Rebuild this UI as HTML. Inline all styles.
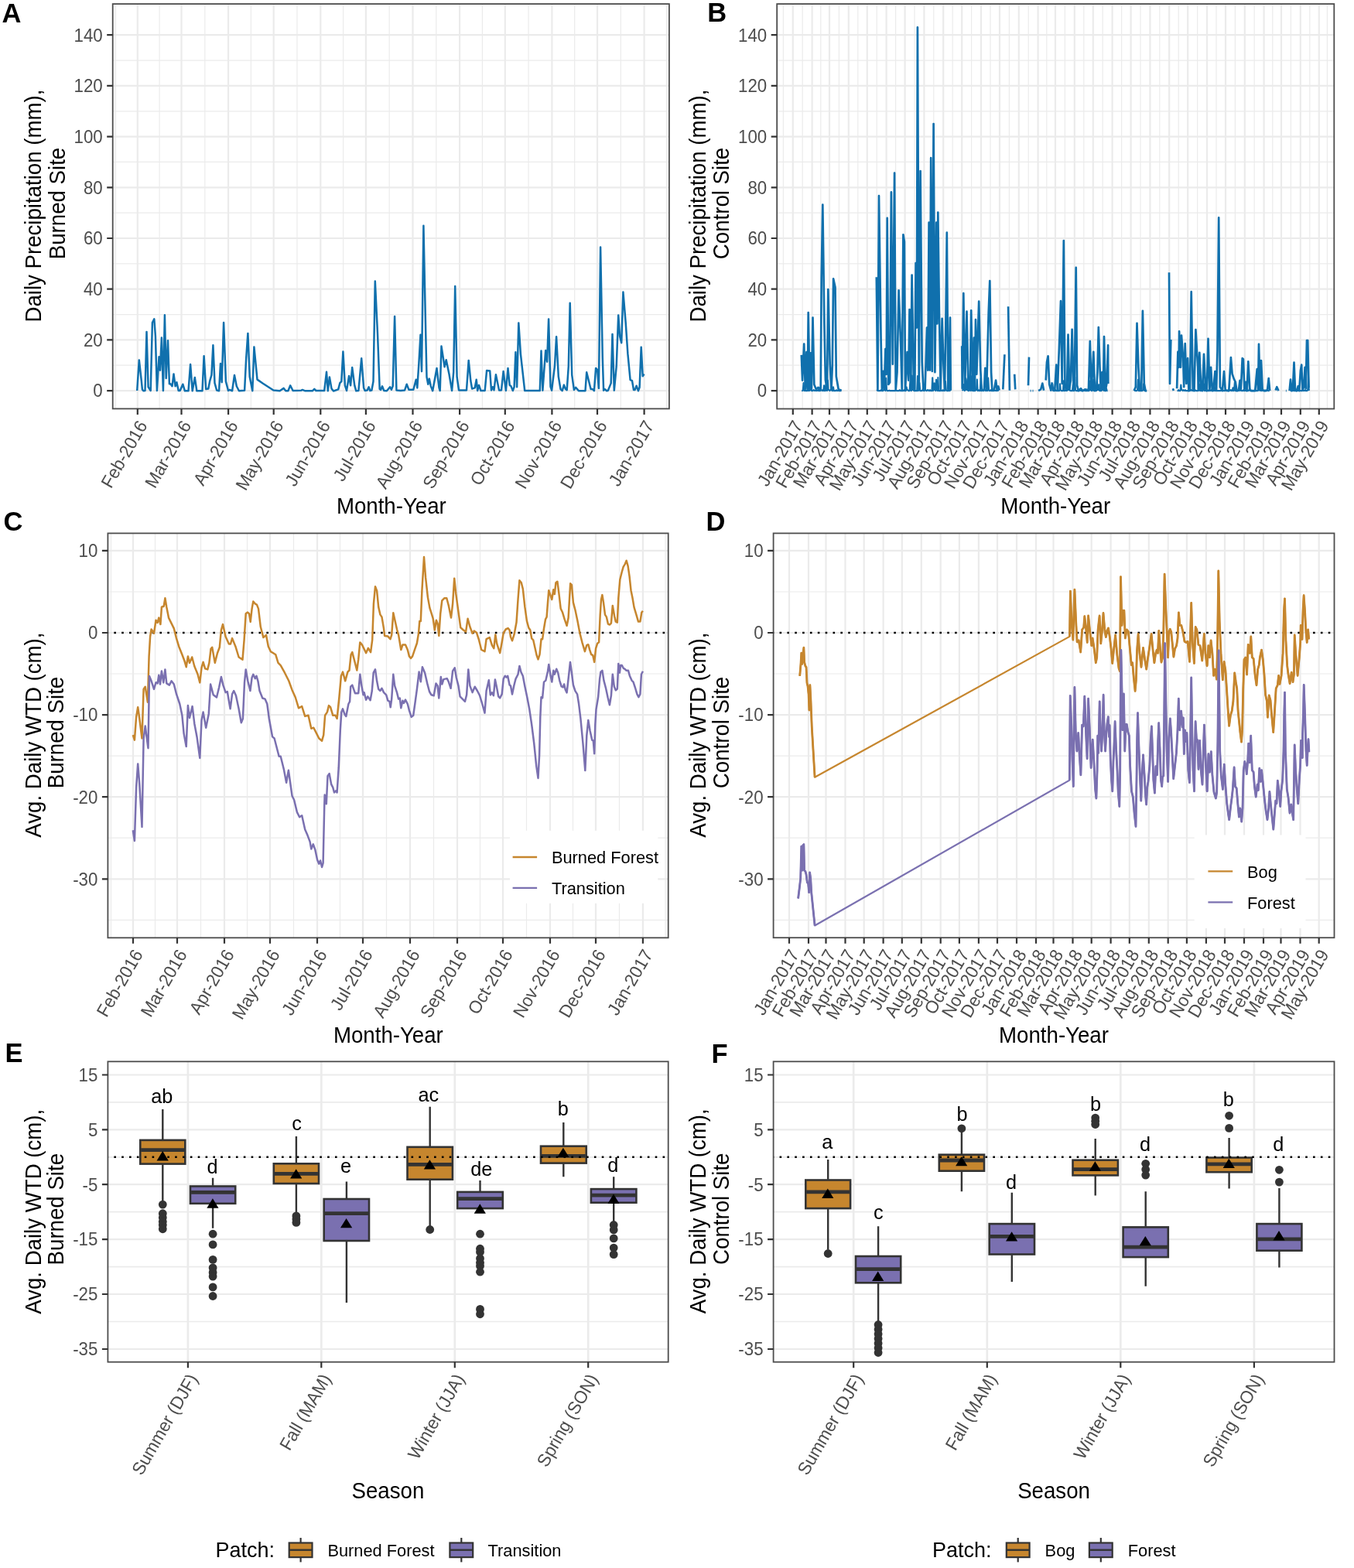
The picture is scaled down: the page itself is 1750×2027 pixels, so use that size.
<!DOCTYPE html>
<html lang="en">
<head>
<meta charset="utf-8">
<title>Daily precipitation and water table depth figure</title>
<style>
html,body{margin:0;padding:0;background:#fff}
body{width:1750px;height:2027px;overflow:hidden}
svg{display:block;font-family:'Liberation Sans', sans-serif}
</style>
</head>
<body>
<svg width="1750" height="2027" viewBox="0 0 1750 2027">
<rect width="1750" height="2027" fill="#ffffff"/>
<rect x="145.7" y="5.1" width="719.2" height="523.3" fill="#fff"/>
<path d="M145.7 472.2H864.9M145.7 406.6H864.9M145.7 340.9H864.9M145.7 275.1H864.9M145.7 209.4H864.9M145.7 143.8H864.9M145.7 78.1H864.9" stroke="#ebebeb" stroke-width="1.2" fill="none"/>
<path d="M206.1 5.1V528.4M264.8 5.1V528.4M324.4 5.1V528.4M384 5.1V528.4M443.6 5.1V528.4M503.2 5.1V528.4M563.8 5.1V528.4M623.4 5.1V528.4M683.1 5.1V528.4M742.7 5.1V528.4M802.3 5.1V528.4M149.5 5.1V528.4M861.5 5.1V528.4" stroke="#ebebeb" stroke-width="1.2" fill="none"/>
<path d="M145.7 505.1H864.9M145.7 439.4H864.9M145.7 373.7H864.9M145.7 308H864.9M145.7 242.3H864.9M145.7 176.6H864.9M145.7 110.9H864.9M145.7 45.2H864.9" stroke="#ebebeb" stroke-width="2.2" fill="none"/>
<path d="M177.8 5.1V528.4M234.5 5.1V528.4M295.1 5.1V528.4M353.7 5.1V528.4M414.3 5.1V528.4M472.9 5.1V528.4M533.5 5.1V528.4M594.1 5.1V528.4M652.8 5.1V528.4M713.4 5.1V528.4M772 5.1V528.4M832.6 5.1V528.4" stroke="#ebebeb" stroke-width="2.2" fill="none"/>
<path d="M177.2 505L179.8 465.4L182.9 493.1L183.9 503.4L185.4 505.3L187.5 505L189.5 428.9L191.6 500.3L194.7 505L196.9 417L199.3 412.4L200.9 434.5L202.9 505L205.5 461.3L207 478.7L208.9 436.6L210.9 505L212.9 407.3L214.7 489L217 440.2L218.9 496.2L220.4 496.2L222.5 499.3L224.5 483.4L226.6 499.3L228.4 494.2L230.7 505L232.7 505L236.3 496.7L238.9 505.3L243.5 505.3L246.1 471L248.7 505.3L251.8 488L254.3 505.3L261.5 505.3L263.6 460.2L266.2 502.9L269.3 502.4L271.3 492.1L273.4 484.9L275.4 446.3L277.5 495.2L280.1 504.5L283.1 505.3L285 470L286.7 494.2L289.1 417L291.9 493.1L295 505L297 503.9L300.1 505.3L303 484.9L305.8 499.3L308.9 505.3L316.1 504.7L318.1 464.3L320.4 430.9L322.7 487L326.3 505.3L328.4 448.4L332.5 490.6L339.9 495.7L353.4 504.5L361.6 505.3L366.7 501.9L369.3 505.3L372.4 505.3L375.2 498.3L378.6 505L389.4 504.7L390.9 503.9L394.5 505.3L403.8 505.3L406.3 502.9L408.4 505L419.2 505L422 480.8L423.8 505.3L425.9 487.5L428.5 502.4L431 505.5L437.2 503.4L439.3 495.2L441.3 493.1L443.4 454.6L445.9 498.3L448 505L451.1 485.9L453.1 498.3L455.2 475.1L458.3 498.3L460.3 505.3L463.4 505L467.2 463.3L470.1 501.4L471.7 505L474.7 504.5L476.6 500.3L478.3 505L480.4 504.5L482.5 493.1L484.8 363.5L488.1 433.5L490.7 502.9L492.2 503.9L494 499.3L496.3 505L499.9 505.3L504.1 500.2L505.9 503.8L507.7 499.1L510.1 409.1L512.4 504.4L517.8 505L523.1 504.4L525.7 496.7L528.4 503.8L534.3 503.8L537.7 490.8L539.3 501.4L541.4 469.5L543.5 432.8L545 480.1L547.4 291.8L550.3 433.9L551.5 487.2L553.3 496.7L554.8 489.6L556.8 499.1L559.2 505.2L564.5 476L567.5 501.4L568.7 505L570.5 447.6L574.6 474.2L576.7 465.3L580.5 483.7L584.1 505L586.2 481.3L588.2 370L590.6 487.2L593 504.4L603 504.4L605.7 465.9L608.3 492L610.1 502.6L613.7 501.4L615.7 490.8L617.2 505L619 497.9L621.4 505L626.7 505L629.1 478.9L633.2 479.5L635 504.4L636.8 500.2L638.5 504.4L640.9 484.3L645.1 504.4L648 504.4L650.6 480.1L653.9 505L656.5 476L658.7 497.9L660.4 499.1L662.8 505L664.6 500.2L666.4 455.3L668.1 500.2L670.3 417.4L672.9 457.6L678.2 505L697.8 505L699.5 453.6L701.4 504.7L705.2 453.1L707.1 467.7L709.1 412.4L711.5 499.8L713.1 504.7L716.9 473.7L719.1 435.2L721.8 486.7L724.5 503L726.7 505.2L728.9 497.6L731 503L732.7 504.1L734.8 473.7L736.7 391.7L739.2 484.6L741.9 504.1L744.1 500.9L747.9 505.2L756.5 505.2L758.2 481.3L763.6 503L765.8 503L767.9 505.2L770.1 475.9L772.1 478.1L773.9 501.9L776.1 319.5L778.8 462.9L780.1 504.7L781.5 503L784.2 505.2L785.9 504.7L789.7 495.4L791.5 431.9L793.8 504.7L796.7 473.7L799.2 407.5L801.1 434.6L803.2 443.3L805.4 377.6L808.7 417.3L811.4 457.4L814.6 491.1L817 492.2L819 504.1L820.6 504.1L822.6 498.7L824.9 505.2L826.6 500.9L828.7 448.7L830.7 486.2L832.5 483.5" stroke="#1070ad" stroke-width="2.5" fill="none" stroke-linejoin="round" stroke-linecap="butt" />
<rect x="145.7" y="5.1" width="719.2" height="523.3" fill="none" stroke="#4d4d4d" stroke-width="1.8"/>
<path d="M138.2 505.1H145.7M138.2 439.4H145.7M138.2 373.7H145.7M138.2 308H145.7M138.2 242.3H145.7M138.2 176.6H145.7M138.2 110.9H145.7M138.2 45.2H145.7" stroke="#333333" stroke-width="2.2" fill="none"/>
<text transform="translate(132.7 513.4) scale(1 1.04)" text-anchor="end" font-size="22.3" fill="#4d4d4d">0</text>
<text transform="translate(132.7 447.7) scale(1 1.04)" text-anchor="end" font-size="22.3" fill="#4d4d4d">20</text>
<text transform="translate(132.7 382) scale(1 1.04)" text-anchor="end" font-size="22.3" fill="#4d4d4d">40</text>
<text transform="translate(132.7 316.3) scale(1 1.04)" text-anchor="end" font-size="22.3" fill="#4d4d4d">60</text>
<text transform="translate(132.7 250.6) scale(1 1.04)" text-anchor="end" font-size="22.3" fill="#4d4d4d">80</text>
<text transform="translate(132.7 184.9) scale(1 1.04)" text-anchor="end" font-size="22.3" fill="#4d4d4d">100</text>
<text transform="translate(132.7 119.2) scale(1 1.04)" text-anchor="end" font-size="22.3" fill="#4d4d4d">120</text>
<text transform="translate(132.7 53.5) scale(1 1.04)" text-anchor="end" font-size="22.3" fill="#4d4d4d">140</text>
<path d="M177.8 528.4V535.9M234.5 528.4V535.9M295.1 528.4V535.9M353.7 528.4V535.9M414.3 528.4V535.9M472.9 528.4V535.9M533.5 528.4V535.9M594.1 528.4V535.9M652.8 528.4V535.9M713.4 528.4V535.9M772 528.4V535.9M832.6 528.4V535.9" stroke="#333333" stroke-width="2.2" fill="none"/>
<text transform="translate(177.2 541.6) rotate(-60) scale(1 1.04)" y="15.6" text-anchor="end" font-size="22.3" fill="#4d4d4d">Feb-2016</text>
<text transform="translate(233.9 541.6) rotate(-60) scale(1 1.04)" y="15.6" text-anchor="end" font-size="22.3" fill="#4d4d4d">Mar-2016</text>
<text transform="translate(294.5 541.6) rotate(-60) scale(1 1.04)" y="15.6" text-anchor="end" font-size="22.3" fill="#4d4d4d">Apr-2016</text>
<text transform="translate(353.1 541.6) rotate(-60) scale(1 1.04)" y="15.6" text-anchor="end" font-size="22.3" fill="#4d4d4d">May-2016</text>
<text transform="translate(413.7 541.6) rotate(-60) scale(1 1.04)" y="15.6" text-anchor="end" font-size="22.3" fill="#4d4d4d">Jun-2016</text>
<text transform="translate(472.3 541.6) rotate(-60) scale(1 1.04)" y="15.6" text-anchor="end" font-size="22.3" fill="#4d4d4d">Jul-2016</text>
<text transform="translate(532.9 541.6) rotate(-60) scale(1 1.04)" y="15.6" text-anchor="end" font-size="22.3" fill="#4d4d4d">Aug-2016</text>
<text transform="translate(593.5 541.6) rotate(-60) scale(1 1.04)" y="15.6" text-anchor="end" font-size="22.3" fill="#4d4d4d">Sep-2016</text>
<text transform="translate(652.2 541.6) rotate(-60) scale(1 1.04)" y="15.6" text-anchor="end" font-size="22.3" fill="#4d4d4d">Oct-2016</text>
<text transform="translate(712.8 541.6) rotate(-60) scale(1 1.04)" y="15.6" text-anchor="end" font-size="22.3" fill="#4d4d4d">Nov-2016</text>
<text transform="translate(771.4 541.6) rotate(-60) scale(1 1.04)" y="15.6" text-anchor="end" font-size="22.3" fill="#4d4d4d">Dec-2016</text>
<text transform="translate(832 541.6) rotate(-60) scale(1 1.04)" y="15.6" text-anchor="end" font-size="22.3" fill="#4d4d4d">Jan-2017</text>
<text transform="translate(53.4 266.1) rotate(-90) scale(1 1.04)" text-anchor="middle" font-size="27.65" fill="#000">Daily Precipitation (mm),</text>
<text transform="translate(83.5 263) rotate(-90) scale(1 1.04)" text-anchor="middle" font-size="27.65" fill="#000">Burned Site</text>
<text transform="translate(505.8 664) scale(1 1.04)" text-anchor="middle" font-size="27.65" fill="#000">Month-Year</text>
<text x="2.6" y="28.6" font-size="34.5" font-weight="bold" fill="#000">A</text>
<rect x="1004.2" y="5.1" width="720.1" height="523.4" fill="#fff"/>
<path d="M1004.2 472.2H1724.3M1004.2 406.6H1724.3M1004.2 340.9H1724.3M1004.2 275.1H1724.3M1004.2 209.4H1724.3M1004.2 143.8H1724.3M1004.2 78.1H1724.3" stroke="#ebebeb" stroke-width="1.2" fill="none"/>
<path d="M1037.2 5.1V528.5M1060.8 5.1V528.5M1084.4 5.1V528.5M1108.8 5.1V528.5M1133.2 5.1V528.5M1157.6 5.1V528.5M1182 5.1V528.5M1206.8 5.1V528.5M1231.2 5.1V528.5M1255.6 5.1V528.5M1280 5.1V528.5M1304.4 5.1V528.5M1329.2 5.1V528.5M1352.8 5.1V528.5M1376.4 5.1V528.5M1400.8 5.1V528.5M1425.2 5.1V528.5M1449.6 5.1V528.5M1474 5.1V528.5M1498.8 5.1V528.5M1523.2 5.1V528.5M1547.6 5.1V528.5M1572 5.1V528.5M1596.4 5.1V528.5M1621.2 5.1V528.5M1644.8 5.1V528.5M1668.4 5.1V528.5M1692.8 5.1V528.5M1012.4 5.1V528.5M1715.4 5.1V528.5" stroke="#ebebeb" stroke-width="1.2" fill="none"/>
<path d="M1004.2 505.1H1724.3M1004.2 439.4H1724.3M1004.2 373.7H1724.3M1004.2 308H1724.3M1004.2 242.3H1724.3M1004.2 176.6H1724.3M1004.2 110.9H1724.3M1004.2 45.2H1724.3" stroke="#ebebeb" stroke-width="2.2" fill="none"/>
<path d="M1024.8 5.1V528.5M1049.6 5.1V528.5M1072 5.1V528.5M1096.8 5.1V528.5M1120.8 5.1V528.5M1145.6 5.1V528.5M1169.6 5.1V528.5M1194.4 5.1V528.5M1219.2 5.1V528.5M1243.2 5.1V528.5M1268 5.1V528.5M1292 5.1V528.5M1316.8 5.1V528.5M1341.6 5.1V528.5M1364 5.1V528.5M1388.8 5.1V528.5M1412.8 5.1V528.5M1437.6 5.1V528.5M1461.6 5.1V528.5M1486.4 5.1V528.5M1511.2 5.1V528.5M1535.2 5.1V528.5M1560 5.1V528.5M1584 5.1V528.5M1608.8 5.1V528.5M1633.6 5.1V528.5M1656 5.1V528.5M1680.8 5.1V528.5M1704.8 5.1V528.5" stroke="#ebebeb" stroke-width="2.2" fill="none"/>
<path d="M1036.2 505.1L1037 505.1L1037.8 504L1038.6 495.1L1039.4 505.1L1040.2 504L1041 505.1L1041.8 505.1L1042.6 505.1L1043.4 505.1L1044.2 504L1045 505.1L1045.8 486.1L1046.6 504.9L1047.4 504L1048.2 496.2L1049 505.1L1049.8 505.1L1050.6 505.1L1051.4 504L1052.2 504.5L1053 505.1L1053.8 504.9L1054.6 505.1L1055.4 505.1L1056.2 504.9L1057 505.1L1057.8 503L1058.6 505.1L1059.4 505L1060.2 505.1L1061 504L1061.8 504L1062.6 505.1L1063.4 504L1064.2 505.1L1065 498.4L1065.8 505.1L1066.6 505.1L1067.4 497.2L1068.2 504.8L1069 505.1L1069.8 491.5L1070.6 504L1071.4 504L1072.2 505.1L1073 504L1073.8 504.4L1074.6 502.1L1075.4 505.1L1076.2 505.1L1077 500.4L1077.8 505.1L1078.6 505.1L1079.4 505.1L1080.2 505.1L1081 504.2L1081.8 505.1L1082.6 505.1L1083.4 504.9L1084.2 505.1L1085 505L1085.8 505.1L1086.6 505.1L1087.4 505.1" stroke="#1070ad" stroke-width="2.1" fill="none" stroke-linejoin="round" stroke-linecap="butt" />
<path d="M1035.8 458.9L1037.1 491.6L1039.2 444.6L1040.8 503.4L1042.4 455L1043.7 503.4L1044.7 404L1046.5 503.4L1047.9 456.3L1048.9 502.1L1050.5 410.6L1052.3 496.9L1054.9 503.4L1057.5 500.8L1060.7 503.4L1061.7 359.6L1063.3 264.6L1065.4 418.4L1066.9 491.6L1069 503.4L1070.3 374L1072.7 470.7L1074.5 503.4L1075.8 473.3L1077.1 360.4L1079.5 371.3L1080.8 486.4L1083.7 503.4L1087.6 504.7" stroke="#1070ad" stroke-width="2.7" fill="none" stroke-linejoin="round" stroke-linecap="butt" />
<path d="M1133.2 505.1L1134 504L1134.8 505.1L1135.6 505.1L1136.4 505.1L1137.2 505.1L1138 505.1L1138.8 504L1139.6 505.1L1140.4 505.1L1141.2 505.1L1142 504.4L1142.8 503L1143.6 504L1144.4 505.1L1145.2 488.7L1146 504L1146.8 505.1L1147.6 505.1L1148.4 505.1L1149.2 504.6L1150 505.1L1150.8 505.1L1151.6 505.1L1152.4 505.1L1153.2 505.1L1154 505.1L1154.8 505.1L1155.6 505.1L1156.4 505.1L1157.2 505.1L1158 504.9L1158.8 505.1L1159.6 505.1L1160.4 505.1L1161.2 505.1L1162 505.1L1162.8 504L1163.6 505.1L1164.4 505.1L1165.2 505.1L1166 505.1L1166.8 505.1L1167.6 505.1L1168.4 504L1169.2 505.1L1170 505L1170.8 505.1L1171.6 500.3L1172.4 504L1173.2 504L1174 505.1L1174.8 505.1L1175.6 505.1L1176.4 492.5L1177.2 504.5L1178 505.1L1178.8 485.5L1179.6 504L1180.4 504L1181.2 505.1L1182 505.1L1182.8 505.1L1183.6 505.1L1184.4 505.1L1185.2 505.1L1186 486L1186.8 505.1L1187.6 504L1188.4 495.1L1189.2 505.1L1190 505.1L1190.8 505.1L1191.6 505.1L1192.4 504L1193.2 502L1194 505.1L1194.8 505.1L1195.6 502.6L1196.4 504L1197.2 505.1L1198 505.1L1198.8 504L1199.6 504L1200.4 505.1L1201.2 505.1L1202 504L1202.8 505.1L1203.6 505.1L1204.4 505.1L1205.2 488.3L1206 505.1L1206.8 504L1207.6 495.3L1208.4 504L1209.2 505.1L1210 490.7L1210.8 504L1211.6 505.1L1212.4 488L1213.2 505.1L1214 505.1L1214.8 505.1L1215.6 505.1L1216.4 504L1217.2 505.1L1218 505.1L1218.8 504L1219.6 505.1L1220.4 504.5L1221.2 505.1L1222 493L1222.8 504L1223.6 505.1L1224.4 505.1L1225.2 505.1L1226 505.1L1226.8 498L1227.6 505.1L1228.4 504" stroke="#1070ad" stroke-width="2.1" fill="none" stroke-linejoin="round" stroke-linecap="butt" />
<path d="M1132.8 358.3L1134.4 504.7L1136 253.1L1138.6 439.3L1139.9 503.4L1141.5 479.9L1142.8 503.4L1144.4 451.1L1145.7 483.8L1146.7 281.9L1148.3 496.9L1150.1 494.2L1151.9 248.4L1153.8 470.7L1156.1 223.6L1157.7 504.7L1159.5 481.2L1161.6 375.3L1164.2 444.6L1165.8 504.7L1167.4 303.3L1168.9 312.5L1170 504.7L1172.6 455L1174.2 491.6L1175.5 400.1L1177.3 496.9L1178.6 355.6L1181 502.1L1182.3 504.7L1183.6 340L1184.9 423.6L1185.9 35.3L1187.8 496.9L1189.6 221L1191.7 468.1L1193.5 504.7L1195.6 503.4L1198 423.6L1199.3 478.6L1200.6 287.7L1201.9 478.6L1203.2 204L1204.8 479.9L1206.6 160L1208.4 481.2L1210.3 287.7L1211.3 418.4L1212.3 274.6L1213.9 402.7L1215.7 503.4L1217.6 411.9L1219.4 470.7L1221 503.4L1222.3 423.6L1223.8 300.7L1225.4 503.4L1226.5 503.4L1228 410.6L1228.8 504.7" stroke="#1070ad" stroke-width="2.7" fill="none" stroke-linejoin="round" stroke-linecap="butt" />
<path d="M1243.6 505.1L1244.4 504L1245.2 504L1246 496.9L1246.8 505.1L1247.6 504L1248.4 489L1249.2 504L1250 504L1250.8 490L1251.6 505.1L1252.4 505.1L1253.2 504.1L1254 504L1254.8 505.1L1255.6 486.2L1256.4 504L1257.2 505.1L1258 505.1L1258.8 505.1L1259.6 505.1L1260.4 505.1L1261.2 504L1262 504L1262.8 490.5L1263.6 505.1L1264.4 504L1265.2 505.1L1266 504L1266.8 505.1L1267.6 488.8L1268.4 505.1L1269.2 505.1L1270 504.7L1270.8 505.1L1271.6 505.1L1272.4 502.8L1273.2 504L1274 505.1L1274.8 505.1L1275.6 504.1L1276.4 505.1L1277.2 488.6L1278 504L1278.8 505.1L1279.6 505.1L1280.4 504L1281.2 505.1L1282 505.1L1282.8 505.1L1283.6 505.1L1284.4 505.1L1285.2 505L1286 504.7L1286.8 505.1L1287.6 504.6L1288.4 505.1L1289.2 503.8L1290 504.9L1290.8 504.9" stroke="#1070ad" stroke-width="2.1" fill="none" stroke-linejoin="round" stroke-linecap="butt" />
<path d="M1243.2 447.2L1243.7 502.1L1245.3 379.2L1247.1 502.1L1249.5 402.7L1251.6 504.7L1253.7 503.4L1255.2 401.4L1257.3 504.7L1258.9 436.7L1259.9 504.7L1261 413.2L1262.3 483.8L1265.2 389.6L1267.3 478.6L1268.8 504.7L1272 503.4L1273.3 475.9L1275.1 504.7L1277.7 404L1279.3 363L1281.1 481.2L1282.4 504.7L1285 503.4L1287.1 491.6L1288.7 504.7L1290.3 499.5L1291.6 504.7" stroke="#1070ad" stroke-width="2.7" fill="none" stroke-linejoin="round" stroke-linecap="butt" />
<path d="M1296.3 503.4L1298.4 458.2" stroke="#1070ad" stroke-width="2.7" fill="none" stroke-linejoin="round" stroke-linecap="butt" />
<path d="M1303.1 396.2L1304.9 504.7" stroke="#1070ad" stroke-width="2.7" fill="none" stroke-linejoin="round" stroke-linecap="butt" />
<path d="M1311.2 483.8L1312.2 503.4" stroke="#1070ad" stroke-width="2.7" fill="none" stroke-linejoin="round" stroke-linecap="butt" />
<path d="M1329 498.2L1330 461.6" stroke="#1070ad" stroke-width="2.7" fill="none" stroke-linejoin="round" stroke-linecap="butt" />
<path d="M1331.6 505.1L1332.6 505.1" stroke="#1070ad" stroke-width="2.7" fill="none" stroke-linejoin="round" stroke-linecap="butt" />
<path d="M1334.5 505.1L1335.5 505.1" stroke="#1070ad" stroke-width="2.7" fill="none" stroke-linejoin="round" stroke-linecap="butt" />
<path d="M1342.1 505.1L1345.2 503.4L1347.3 495.6L1349.1 504.7" stroke="#1070ad" stroke-width="2.7" fill="none" stroke-linejoin="round" stroke-linecap="butt" />
<path d="M1351.7 491.6L1353 468.1L1354.6 460.3L1356.2 496.9L1358.3 504.7L1359.8 494.2" stroke="#1070ad" stroke-width="2.7" fill="none" stroke-linejoin="round" stroke-linecap="butt" />
<path d="M1360.4 502L1361.2 505.1L1362 505.1L1362.8 505.1L1363.6 505.1L1364.4 504.1L1365.2 505.1L1366 505.1L1366.8 505.1L1367.6 505.1L1368.4 505.1L1369.2 505.1L1370 496.2L1370.8 504L1371.6 505.1L1372.4 505.1L1373.2 505.1L1374 505.1L1374.8 492.2L1375.6 505.1L1376.4 505.1L1377.2 504.1L1378 505L1378.8 505.1L1379.6 494.6L1380.4 504L1381.2 504L1382 497.5L1382.8 504.8L1383.6 505.1L1384.4 505.1L1385.2 505.1L1386 505.1L1386.8 496.8L1387.6 505.1L1388.4 505.1L1389.2 487.3L1390 504L1390.8 505.1L1391.6 505.1L1392.4 505.1L1393.2 505.1L1394 505.1L1394.8 505.1L1395.6 505L1396.4 504.3L1397.2 505L1398 505.1L1398.8 505.1L1399.6 505.1L1400.4 505.1L1401.2 504.7L1402 505L1402.8 505.1L1403.6 505.1L1404.4 505.1L1405.2 505.1L1406 505.1L1406.8 505.1L1407.6 505.1L1408.4 492.6L1409.2 504L1410 504L1410.8 505.1L1411.6 505.1L1412.4 504L1413.2 490.8L1414 505.1L1414.8 504.8L1415.6 504.9L1416.4 505.1L1417.2 505L1418 491.8L1418.8 504L1419.6 504L1420.4 497.2L1421.2 505.1L1422 505.1L1422.8 505.1L1423.6 505.1L1424.4 504L1425.2 497.5L1426 504.3L1426.8 505.1L1427.6 489.2L1428.4 504.5L1429.2 505L1430 502.5L1430.8 505.1L1431.6 505.1" stroke="#1070ad" stroke-width="2.1" fill="none" stroke-linejoin="round" stroke-linecap="butt" />
<path d="M1360 496L1361.1 504.4L1363.2 504.4L1365.3 471.7L1366.8 504.4L1368.9 449.5L1371 389.2L1372.7 496L1374.8 311L1376.5 500.2L1379 504.4L1380.5 432.6L1382.2 502.3L1383.9 491.8L1385.6 425.8L1387.5 503.4L1388.8 491.8L1390.7 345.9L1392.1 498.1L1393.8 505.1L1397 502.3L1399.1 505.1L1402.3 503.4L1406.9 504.4L1408.8 441L1410.7 504.4L1413.3 454.8L1415 505.1L1417.1 504.4L1418.4 481.2L1419.8 423L1421.5 474.8L1422.8 504.4L1424.5 481.2L1425.8 502.3L1427 435.1L1428.7 505.1L1430.4 496L1432.1 446.3L1432.3 496" stroke="#1070ad" stroke-width="2.7" fill="none" stroke-linejoin="round" stroke-linecap="butt" />
<path d="M1466.1 504.8L1466.9 505L1467.7 505.1L1468.5 505.1L1469.3 505.1L1470.1 504L1470.9 490.8L1471.7 505.1L1472.5 505.1L1473.3 505.1L1474.1 505.1L1474.9 505.1L1475.7 505.1L1476.5 505.1L1477.3 504L1478.1 496.2L1478.9 504.7L1479.7 505.1L1480.5 505.1L1481.3 505.1L1482.1 505.1" stroke="#1070ad" stroke-width="2.1" fill="none" stroke-linejoin="round" stroke-linecap="butt" />
<path d="M1465.7 505.1L1467.8 500.2L1469.5 417.8L1471.4 474.8L1473.1 504.4L1475.2 504.4L1476.9 401.9L1478.8 496L1480.5 505.1L1482.2 505.1" stroke="#1070ad" stroke-width="2.7" fill="none" stroke-linejoin="round" stroke-linecap="butt" />
<path d="M1511 352.2L1512 496L1513.3 438.9" stroke="#1070ad" stroke-width="2.7" fill="none" stroke-linejoin="round" stroke-linecap="butt" />
<path d="M1515.8 502.3L1516.9 505.1" stroke="#1070ad" stroke-width="2.7" fill="none" stroke-linejoin="round" stroke-linecap="butt" />
<path d="M1521.5 505.1L1522.3 505.1L1523.1 504L1523.9 505.1L1524.7 505.1L1525.5 505.1L1526.3 497.5L1527.1 504L1527.9 504L1528.7 505.1L1529.5 504L1530.3 504.6L1531.1 505.1L1531.9 504L1532.7 505.1L1533.5 505.1L1534.3 505.1L1535.1 505.1L1535.9 505.1L1536.7 505.1L1537.5 505.1L1538.3 505.1L1539.1 504L1539.9 504L1540.7 505.1L1541.5 504.1L1542.3 505.1L1543.1 505.1L1543.9 505.1L1544.7 504L1545.5 505.1L1546.3 505.1L1547.1 505.1L1547.9 505.1L1548.7 505.1L1549.5 504L1550.3 496.9L1551.1 505.1L1551.9 504.5L1552.7 505.1L1553.5 505.1L1554.3 504.8L1555.1 486.2L1555.9 504L1556.7 505.1L1557.5 496.4L1558.3 505.1L1559.1 505.1L1559.9 505.1L1560.7 504L1561.5 505.1L1562.3 505.1L1563.1 505.1L1563.9 504.6L1564.7 505.1L1565.5 504L1566.3 504.7L1567.1 505.1L1567.9 505.1L1568.7 505.1L1569.5 496.8L1570.3 505.1L1571.1 504.4L1571.9 505.1L1572.7 505.1L1573.5 505.1L1574.3 505.1L1575.1 505.1L1575.9 505.1L1576.7 505.1L1577.5 505.1L1578.3 505L1579.1 504.5L1579.9 505.1L1580.7 504.6L1581.5 505.1L1582.3 505.1L1583.1 505.1L1583.9 504.9L1584.7 505.1L1585.5 505.1L1586.3 505.1L1587.1 505.1L1587.9 505.1L1588.7 505.1L1589.5 504.1L1590.3 504L1591.1 505.1L1591.9 504L1592.7 505.1L1593.5 501.3L1594.3 505.1L1595.1 504.4L1595.9 493.6L1596.7 505.1L1597.5 505.1L1598.3 505.1L1599.1 505.1L1599.9 505.1L1600.7 504.7L1601.5 505.1L1602.3 504.5L1603.1 502.5L1603.9 504.9L1604.7 505.1L1605.5 505.1L1606.3 505.1L1607.1 504L1607.9 505.1L1608.7 505.1L1609.5 504.7L1610.3 505.1L1611.1 505.1L1611.9 504.7L1612.7 505.1L1613.5 505.1L1614.3 504.1L1615.1 502L1615.9 505.1L1616.7 505.1L1617.5 505L1618.3 505.1L1619.1 505.1L1619.9 505.1L1620.7 505.1L1621.5 505.1L1622.3 503.7L1623.1 505.1L1623.9 505.1L1624.7 505.1L1625.5 505.1L1626.3 504.1L1627.1 489.3L1627.9 504L1628.7 504.8L1629.5 497.1L1630.3 505.1L1631.1 504.4L1631.9 504.8L1632.7 505.1L1633.5 505.1L1634.3 505.1L1635.1 505.1L1635.9 505.1L1636.7 505.1L1637.5 505.1L1638.3 504.9L1639.1 505.1L1639.9 505.1L1640.7 505.1" stroke="#1070ad" stroke-width="2.1" fill="none" stroke-linejoin="round" stroke-linecap="butt" />
<path d="M1521.1 502.3L1522.4 454.8L1523.6 474.8L1524.1 428.3L1526 474.8L1527 433.6L1529.1 462.2L1530.2 500.2L1531.7 444.2L1533.4 496L1535.1 463.2L1536.5 505.1L1538 504.4L1539.7 377.2L1541.8 504.4L1543.5 505.1L1545.4 426.2L1548.2 474.8L1548.8 504.4L1550.3 455.8L1552.4 504.4L1554.1 505.1L1556 457.9L1558.3 504.4L1559.8 505.1L1561.5 437.8L1563.4 504.4L1565.1 474.8L1566.8 505.1L1568.2 504.4L1570.4 480.1L1572.1 504.4L1573.5 453.7L1575.2 281.4L1576.9 500.2L1579.9 505.1L1582 480.1L1583.7 504.4L1588.3 505.1L1590.9 462.2L1592.6 483.3L1594.7 489.6L1596.8 493.9L1598.5 505.1L1601 504.4L1602.5 491.8L1603.8 504.4L1605.7 463.2L1606.9 464.3L1608.4 504.4L1610.1 493.9L1611.6 505.1L1613.3 467.4L1615.4 504.4L1617.9 505.1L1622.2 505.1L1624.7 477L1626 504.4L1627 444.8L1628.5 504.4L1630 466L1631.7 504.4L1634.8 505.1L1638 504.4L1639.7 489.2L1641.2 505.1" stroke="#1070ad" stroke-width="2.7" fill="none" stroke-linejoin="round" stroke-linecap="butt" />
<path d="M1648.6 504.4L1650.3 500.2L1652.4 505.1" stroke="#1070ad" stroke-width="2.7" fill="none" stroke-linejoin="round" stroke-linecap="butt" />
<path d="M1661.9 505.1L1662.7 505.1" stroke="#1070ad" stroke-width="2.7" fill="none" stroke-linejoin="round" stroke-linecap="butt" />
<path d="M1667 501.9L1667.8 504.5L1668.6 504.7L1669.4 505.1L1670.2 505.1L1671 505.1L1671.8 495.2L1672.6 505.1L1673.4 505.1L1674.2 505.1L1675 505.1L1675.8 505.1L1676.6 505.1L1677.4 504.9L1678.2 504.9L1679 505.1L1679.8 504.7L1680.6 505.1L1681.4 505.1L1682.2 505.1L1683 505.1L1683.8 504.6L1684.6 505.1L1685.4 504.7L1686.2 505.1L1687 504L1687.8 505.1L1688.6 505.1L1689.4 505.1L1690.2 504L1691 486.9L1691.8 505.1" stroke="#1070ad" stroke-width="2.1" fill="none" stroke-linejoin="round" stroke-linecap="butt" />
<path d="M1666.6 505.1L1668 490.7L1669.3 505.1L1670.8 504.4L1672.5 468.5L1674 504.4L1676.1 505.1L1677.8 499.2L1679.2 505.1L1680.9 479.1L1682.2 471.7L1683.5 504.4L1685.2 500.2L1686.6 474.8L1687.7 502.3L1689 440L1690.2 440L1691.5 500.2L1691.9 501.3" stroke="#1070ad" stroke-width="2.7" fill="none" stroke-linejoin="round" stroke-linecap="butt" />
<rect x="1004.2" y="5.1" width="720.1" height="523.4" fill="none" stroke="#4d4d4d" stroke-width="1.8"/>
<path d="M996.7 505.1H1004.2M996.7 439.4H1004.2M996.7 373.7H1004.2M996.7 308H1004.2M996.7 242.3H1004.2M996.7 176.6H1004.2M996.7 110.9H1004.2M996.7 45.2H1004.2" stroke="#333333" stroke-width="2.2" fill="none"/>
<text transform="translate(991.2 513.4) scale(1 1.04)" text-anchor="end" font-size="22.3" fill="#4d4d4d">0</text>
<text transform="translate(991.2 447.7) scale(1 1.04)" text-anchor="end" font-size="22.3" fill="#4d4d4d">20</text>
<text transform="translate(991.2 382) scale(1 1.04)" text-anchor="end" font-size="22.3" fill="#4d4d4d">40</text>
<text transform="translate(991.2 316.3) scale(1 1.04)" text-anchor="end" font-size="22.3" fill="#4d4d4d">60</text>
<text transform="translate(991.2 250.6) scale(1 1.04)" text-anchor="end" font-size="22.3" fill="#4d4d4d">80</text>
<text transform="translate(991.2 184.9) scale(1 1.04)" text-anchor="end" font-size="22.3" fill="#4d4d4d">100</text>
<text transform="translate(991.2 119.2) scale(1 1.04)" text-anchor="end" font-size="22.3" fill="#4d4d4d">120</text>
<text transform="translate(991.2 53.5) scale(1 1.04)" text-anchor="end" font-size="22.3" fill="#4d4d4d">140</text>
<path d="M1024.8 528.5V536M1049.6 528.5V536M1072 528.5V536M1096.8 528.5V536M1120.8 528.5V536M1145.6 528.5V536M1169.6 528.5V536M1194.4 528.5V536M1219.2 528.5V536M1243.2 528.5V536M1268 528.5V536M1292 528.5V536M1316.8 528.5V536M1341.6 528.5V536M1364 528.5V536M1388.8 528.5V536M1412.8 528.5V536M1437.6 528.5V536M1461.6 528.5V536M1486.4 528.5V536M1511.2 528.5V536M1535.2 528.5V536M1560 528.5V536M1584 528.5V536M1608.8 528.5V536M1633.6 528.5V536M1656 528.5V536M1680.8 528.5V536M1704.8 528.5V536" stroke="#333333" stroke-width="2.2" fill="none"/>
<text transform="translate(1024.2 541.7) rotate(-60) scale(1 1.04)" y="15.6" text-anchor="end" font-size="22.3" fill="#4d4d4d">Jan-2017</text>
<text transform="translate(1049 541.7) rotate(-60) scale(1 1.04)" y="15.6" text-anchor="end" font-size="22.3" fill="#4d4d4d">Feb-2017</text>
<text transform="translate(1071.4 541.7) rotate(-60) scale(1 1.04)" y="15.6" text-anchor="end" font-size="22.3" fill="#4d4d4d">Mar-2017</text>
<text transform="translate(1096.2 541.7) rotate(-60) scale(1 1.04)" y="15.6" text-anchor="end" font-size="22.3" fill="#4d4d4d">Apr-2017</text>
<text transform="translate(1120.2 541.7) rotate(-60) scale(1 1.04)" y="15.6" text-anchor="end" font-size="22.3" fill="#4d4d4d">May-2017</text>
<text transform="translate(1145 541.7) rotate(-60) scale(1 1.04)" y="15.6" text-anchor="end" font-size="22.3" fill="#4d4d4d">Jun-2017</text>
<text transform="translate(1169 541.7) rotate(-60) scale(1 1.04)" y="15.6" text-anchor="end" font-size="22.3" fill="#4d4d4d">Jul-2017</text>
<text transform="translate(1193.8 541.7) rotate(-60) scale(1 1.04)" y="15.6" text-anchor="end" font-size="22.3" fill="#4d4d4d">Aug-2017</text>
<text transform="translate(1218.6 541.7) rotate(-60) scale(1 1.04)" y="15.6" text-anchor="end" font-size="22.3" fill="#4d4d4d">Sep-2017</text>
<text transform="translate(1242.6 541.7) rotate(-60) scale(1 1.04)" y="15.6" text-anchor="end" font-size="22.3" fill="#4d4d4d">Oct-2017</text>
<text transform="translate(1267.4 541.7) rotate(-60) scale(1 1.04)" y="15.6" text-anchor="end" font-size="22.3" fill="#4d4d4d">Nov-2017</text>
<text transform="translate(1291.4 541.7) rotate(-60) scale(1 1.04)" y="15.6" text-anchor="end" font-size="22.3" fill="#4d4d4d">Dec-2017</text>
<text transform="translate(1316.2 541.7) rotate(-60) scale(1 1.04)" y="15.6" text-anchor="end" font-size="22.3" fill="#4d4d4d">Jan-2018</text>
<text transform="translate(1341 541.7) rotate(-60) scale(1 1.04)" y="15.6" text-anchor="end" font-size="22.3" fill="#4d4d4d">Feb-2018</text>
<text transform="translate(1363.4 541.7) rotate(-60) scale(1 1.04)" y="15.6" text-anchor="end" font-size="22.3" fill="#4d4d4d">Mar-2018</text>
<text transform="translate(1388.2 541.7) rotate(-60) scale(1 1.04)" y="15.6" text-anchor="end" font-size="22.3" fill="#4d4d4d">Apr-2018</text>
<text transform="translate(1412.2 541.7) rotate(-60) scale(1 1.04)" y="15.6" text-anchor="end" font-size="22.3" fill="#4d4d4d">May-2018</text>
<text transform="translate(1437 541.7) rotate(-60) scale(1 1.04)" y="15.6" text-anchor="end" font-size="22.3" fill="#4d4d4d">Jun-2018</text>
<text transform="translate(1461 541.7) rotate(-60) scale(1 1.04)" y="15.6" text-anchor="end" font-size="22.3" fill="#4d4d4d">Jul-2018</text>
<text transform="translate(1485.8 541.7) rotate(-60) scale(1 1.04)" y="15.6" text-anchor="end" font-size="22.3" fill="#4d4d4d">Aug-2018</text>
<text transform="translate(1510.6 541.7) rotate(-60) scale(1 1.04)" y="15.6" text-anchor="end" font-size="22.3" fill="#4d4d4d">Sep-2018</text>
<text transform="translate(1534.6 541.7) rotate(-60) scale(1 1.04)" y="15.6" text-anchor="end" font-size="22.3" fill="#4d4d4d">Oct-2018</text>
<text transform="translate(1559.4 541.7) rotate(-60) scale(1 1.04)" y="15.6" text-anchor="end" font-size="22.3" fill="#4d4d4d">Nov-2018</text>
<text transform="translate(1583.4 541.7) rotate(-60) scale(1 1.04)" y="15.6" text-anchor="end" font-size="22.3" fill="#4d4d4d">Dec-2018</text>
<text transform="translate(1608.2 541.7) rotate(-60) scale(1 1.04)" y="15.6" text-anchor="end" font-size="22.3" fill="#4d4d4d">Jan-2019</text>
<text transform="translate(1633 541.7) rotate(-60) scale(1 1.04)" y="15.6" text-anchor="end" font-size="22.3" fill="#4d4d4d">Feb-2019</text>
<text transform="translate(1655.4 541.7) rotate(-60) scale(1 1.04)" y="15.6" text-anchor="end" font-size="22.3" fill="#4d4d4d">Mar-2019</text>
<text transform="translate(1680.2 541.7) rotate(-60) scale(1 1.04)" y="15.6" text-anchor="end" font-size="22.3" fill="#4d4d4d">Apr-2019</text>
<text transform="translate(1704.2 541.7) rotate(-60) scale(1 1.04)" y="15.6" text-anchor="end" font-size="22.3" fill="#4d4d4d">May-2019</text>
<text transform="translate(912 266.1) rotate(-90) scale(1 1.04)" text-anchor="middle" font-size="27.65" fill="#000">Daily Precipitation (mm),</text>
<text transform="translate(942 263) rotate(-90) scale(1 1.04)" text-anchor="middle" font-size="27.65" fill="#000">Control Site</text>
<text transform="translate(1364.2 664) scale(1 1.04)" text-anchor="middle" font-size="27.65" fill="#000">Month-Year</text>
<text x="914.2" y="28.3" font-size="34.5" font-weight="bold" fill="#000">B</text>
<rect x="139.4" y="689.4" width="724.3" height="522.9" fill="#fff"/>
<path d="M139.4 1189.3H863.7M139.4 1083.2H863.7M139.4 977.1H863.7M139.4 871H863.7M139.4 765H863.7" stroke="#ebebeb" stroke-width="1.2" fill="none"/>
<path d="M200.5 689.4V1212.3M259.5 689.4V1212.3M319.5 689.4V1212.3M379.5 689.4V1212.3M439.5 689.4V1212.3M499.5 689.4V1212.3M560.5 689.4V1212.3M620.5 689.4V1212.3M680.5 689.4V1212.3M740.5 689.4V1212.3M800.5 689.4V1212.3M143.5 689.4V1212.3M860 689.4V1212.3" stroke="#ebebeb" stroke-width="1.2" fill="none"/>
<path d="M139.4 1136.3H863.7M139.4 1030.2H863.7M139.4 924.1H863.7M139.4 818H863.7M139.4 711.9H863.7" stroke="#ebebeb" stroke-width="2.2" fill="none"/>
<path d="M172 689.4V1212.3M229 689.4V1212.3M290 689.4V1212.3M349 689.4V1212.3M410 689.4V1212.3M469 689.4V1212.3M530 689.4V1212.3M591 689.4V1212.3M650 689.4V1212.3M711 689.4V1212.3M770 689.4V1212.3M830.9 689.4V1212.3" stroke="#ebebeb" stroke-width="2.2" fill="none"/>
<path d="M139.4 818H863.7" stroke="#000" stroke-width="2.6" stroke-dasharray="2.6 7.25" stroke-dashoffset="1.9" fill="none"/>
<path d="M171.8 950.2L173.9 956.6L176.1 926.9L178.2 914.2L180.3 929L183.5 954.5L185.6 890.9L187.7 887.7L190.9 907.8L192.6 848.4L194.1 823L195.6 813.5L199 818.8L201.5 801.8L203.6 805L205.3 798.6L207.4 807.1L208.9 784.8L211.7 783.8L213.4 773.2L215.3 784.8L218 798.6L220.6 803.9L224.8 812.4L228 825.1L231.2 835.7L235.4 846.3L238.6 854.8L240.7 862.2L242.9 848.4L245 856.9L248.2 849.5L251.3 861.2L255.6 871.8L258.3 882.4L260.5 863.3L262.6 855.9L265.1 864.4L268.3 865.4L270.4 856.9L272.5 838.9L274.2 836.8L277.8 856.9L281 844.2L283.8 836.8L285.9 814.5L288 807.1L291.6 823L295.9 832.5L298 832.5L300.1 825.1L304.4 835.7L308.6 849.5L313.5 852.7L315.6 827.2L317.7 793.3L319.8 791.6L322 793.3L323.7 803.9L325.6 786.9L327.3 777.4L329.8 780.6L331.9 781.6L334 786.9L336.8 810.3L340.4 824.1L344 820.9L346.8 835.7L350 842.5L353.1 844.2L356.3 846.3L359.5 856.9L362.7 860.1L368 869.7L373.3 880.3L377.5 891.9L381.8 901.5L386 915.3L390.2 913.1L394.2 925.9L398.5 924.8L402.3 941.8L405.3 940.7L409.1 948.1L412.3 954.5L416.1 957.7L418.2 950.2L420.1 924.8L422.9 920.6L425 912.1L427.1 914.2L430.3 924.8L433.5 924.8L435.6 929L438.4 901.5L440.9 873.9L443 868.6L446.2 880.3L449.4 868.6L451.5 866.5L453.6 846.3L455.3 843.1L458.3 854.8L461.3 866.5L463.2 852.7L465.3 830.4L468 833.6L471.6 841L473.1 844.2L475.9 837.8L479.1 843.1L481.2 827.2L482.9 780.6L485 758.3L487.1 763.6L489.2 784.8L491.4 794.4L493.5 797.6L496 812.4L497.1 821.9L501.3 822.6L504.5 826.2L506.2 820.9L508.3 792.3L510.9 803.9L513 813.5L515.1 820.9L518.3 840L520.4 833.6L524 833.6L526.8 840L528.9 848.4L531 851L533.1 848.4L536.3 838.9L538.9 831.5L541 818.8L542.3 802.9L543.8 802.9L545.4 763.6L548 720.1L550.1 746.7L552.9 772.1L555.4 785.9L557.5 792.3L559.7 799.7L561.8 814.5L563.9 801.8L565.6 806L567.3 821.9L569.2 793.3L571.3 776.3L574.5 773.2L577.3 773.2L579.8 782.7L583 798.6L585.1 780.6L587.2 747.7L589.3 767.9L592.5 791.2L595.3 811.3L598.9 814.5L602.1 816.6L604.6 799.7L607.4 810.3L610.6 818.8L612.7 815.6L615.9 817.7L619 827.2L622.2 840L626.5 842.1L628.6 826.2L632.8 824.1L635.9 834.2L638.3 838.2L640.3 820.4L642.2 832.2L646.2 844.1L648.7 830.3L650.7 818.4L653.7 813.5L656.6 812.1L658.6 814.5L660 823.4L662 828.3L664.5 820.4L667.5 804.6L669.5 775L671.4 750.3L673.8 753.3L675.8 761.2L678.4 784.9L680.9 802.6L683.3 811.5L685.3 814.5L687.2 825.3L689.2 827.3L691.2 836.2L693.6 847L695.5 852.4L697.5 846.1L699.5 826.3L701.1 826.3L703 812.5L705 800.7L706.6 797.7L708 778.9L709.3 763.2L711.3 769.1L713.3 775L715.3 762.2L716.8 768.1L718.4 753.3L720.4 751.7L722.4 767.1L724.7 786.8L727.1 791.8L729.7 800.7L732.6 808.9L734.6 798.7L736.2 771.1L737.2 754.3L738.9 756.2L740.9 778.9L743.5 788.8L746.4 802.6L749.4 818.4L752.4 830.3L755.9 842.1L758.3 834.2L760.3 833.2L762.2 840.1L764.2 846.1L766.2 847L768.2 855.9L770.1 838.2L772.1 831.8L774.1 830.3L775.7 794.7L777 775L778.4 769.1L780 778.9L782 794.7L783.9 797.7L785.9 806.6L787.9 807.6L789.9 805.6L791.8 782.9L794.2 796.7L795.8 803.6L797.8 804.6L799.3 773L801.3 749.3L803.7 739.5L805.7 732.6L807.6 729.6L809.6 724.7L811.6 731.6L813.6 745.4L815.5 763.2L817.5 773L819.5 784.9L822.4 794.7L825 803.6L827.4 803.6L829.3 791.8L830.9 789.8" stroke="#c6862e" stroke-width="2.5" fill="none" stroke-linejoin="round" stroke-linecap="butt" />
<path d="M171.8 1073.2L173.9 1087L176.1 1018.1L178.2 987.4L180.3 1013.9L183.5 1069L185.6 954.5L187.7 938.6L189.8 954.5L191.5 967.2L193 873.9L195.6 880.3L199 890.9L201.5 882.4L203.6 883.4L205.3 872.8L207 884.5L208.9 867.5L211.3 882.4L213.4 865.4L215.3 883.4L218.9 885.6L221.6 880.3L224.8 884.5L228 897.2L232.3 910L235.4 924.8L237.6 948.1L240.7 965.1L242.9 912.1L245 928L248.6 913.1L251.3 935.4L254.5 952.4L258.3 979.9L260.5 931.2L262.6 920.6L266.2 940.7L269.8 922.7L272.1 884.5L275.7 898.3L280 901.5L283.1 888.7L285.9 875L288.4 885.6L291.6 895.1L293.8 894L297.6 916.3L300.1 897.2L302.2 893L305 899.3L308.6 916.3L311.8 934.3L313.9 929L316 882.4L317.7 865.4L320.3 880.3L323.4 893L325.6 876L327.3 871.8L329.8 877.1L331.5 873.9L333.4 880.3L335.5 893L339.3 902.5L342.5 903.6L345.3 910L347.8 929L352.1 952.4L354.6 954.5L360.6 977.8L362.7 977.8L366.9 994.8L370.1 1011.7L372.9 995.8L377.5 1028.7L380.1 1034L383.9 1049.9L387.1 1056.3L390.2 1054.2L394.2 1072.2L397.4 1079.6L400.6 1088.1L402.3 1097.6L404.8 1091.3L407.4 1098.7L410.1 1111.4L412.3 1116.7L414 1112.5L416.1 1121L417.6 1115.7L419.3 1039.3L419.7 1027.6L421.8 1039.3L423.5 1003.3L425.6 1000.1L428.2 1013.9L430.3 1018.1L432 1024.5L434.1 1022.3L435.6 1024.5L437.7 992.7L439.8 943.9L441.3 920.6L443 916.3L445.6 923.7L447.3 925.9L450.4 910L452.1 906.8L453.2 887.7L455.3 885.6L458.9 896.2L463.2 896.2L465.3 871.8L467.4 886.6L469.5 898.3L470.6 895.1L473.1 904.6L475.3 900.4L478.6 905.3L480.8 893L482.7 869.7L485 865.4L487.1 880.3L489.2 890.9L491.4 893L493.5 889.8L496 895.1L499.2 898.3L501.3 905.7L503.5 906.8L504.7 914.2L506.2 903.6L508.3 871.8L510.2 886.6L513 895.1L515.1 903.6L516.8 902.5L518.3 915.3L520.4 905.7L521.9 908.9L524 904.6L526.8 910L528.9 918.4L531.7 926.9L534.2 924.8L536.3 910L538.9 890.9L541.6 868.6L543.8 881.3L545.9 862.2L549.1 869.7L552.2 883.4L555 894L557.5 898.3L560.7 899.3L563.5 883.4L565.6 886.6L567.3 902.5L569.8 875L571.3 884.5L573.4 878.1L577.7 877.1L579.8 881.3L582.6 889.8L585.1 867.5L587.7 863.3L589.8 876L592.5 886.6L594.6 900.4L597.8 903.6L601 906.8L603.1 898.3L605.3 865.4L607.4 886.6L610.6 895.1L613.7 887.7L616.9 893L620.1 899.3L623.3 910L626.5 921.6L628.6 893L631.8 879.2L633.9 898.4L635.9 895.4L637.9 899.3L639.9 878.6L641.8 887.5L644.2 900.3L646.2 902.3L648.7 897.4L650.7 877.6L652.7 873.7L654.7 875.7L656.2 873.7L658.6 885.5L660 886.5L662 897.4L664.5 885.5L666.5 877.6L669.5 871.7L671.4 860.9L673.4 868.7L675.8 873.7L678.4 887.5L681.3 901.3L684.3 917.1L687.2 936.8L690.2 960.5L693.2 990.1L695.5 1005.9L697.1 976.3L698.3 927L699.5 901.3L701.1 902.3L703 881.6L705.4 879.6L708 867.8L709.3 858.9L711.3 871.7L713.3 881.6L715.3 866.8L716.8 871.7L719.2 864.8L721.2 869.7L723.2 879.6L725.7 887.5L727.7 888.5L729.1 884.5L730.7 891.4L732.6 895.4L734.6 877.6L737 855.9L738.9 869.7L740.9 885.5L743.5 893.4L746.1 897.4L748 909.2L750.4 928.9L753.4 960.5L756.3 996.1L758.3 950.7L760.3 930.9L762.6 944.7L765.2 956.6L766.8 957.6L768.2 974.3L769.3 936.8L770.5 917.1L773.1 901.3L775.1 877.6L776.4 868.7L778.4 866.8L780.4 879.6L783 889.5L785.5 901.3L787.9 911.2L789.9 899.3L791.8 871.7L793.8 887.5L795.8 892.4L797.8 890.5L799.3 857.9L800.9 869.7L802.1 859.9L803.7 859.9L805.7 863.8L807.6 864.8L809.6 866.8L812 866.8L813.9 873.7L816.5 879.6L818.5 881.6L821.1 889.5L823.4 897.4L825.4 901.3L827.4 897.4L828.9 871.7L830.9 867.8" stroke="#7a70b0" stroke-width="2.5" fill="none" stroke-linejoin="round" stroke-linecap="butt" />
<rect x="659" y="1073.8" width="191.3" height="94" fill="#fff"/>
<path d="M662.6 1108H694.1" stroke="#c6862e" stroke-width="2.3" fill="none"/>
<text transform="translate(712.9 1116.3) scale(1 1.04)" font-size="21.8" fill="#000">Burned Forest</text>
<path d="M662.6 1147.8H694.1" stroke="#7a70b0" stroke-width="2.3" fill="none"/>
<text transform="translate(712.9 1155.9) scale(1 1.04)" font-size="21.8" fill="#000">Transition</text>
<rect x="139.4" y="689.4" width="724.3" height="522.9" fill="none" stroke="#4d4d4d" stroke-width="1.8"/>
<path d="M131.9 1136.3H139.4M131.9 1030.2H139.4M131.9 924.1H139.4M131.9 818H139.4M131.9 711.9H139.4" stroke="#333333" stroke-width="2.2" fill="none"/>
<text transform="translate(126.4 1144.6) scale(1 1.04)" text-anchor="end" font-size="22.3" fill="#4d4d4d">-30</text>
<text transform="translate(126.4 1038.5) scale(1 1.04)" text-anchor="end" font-size="22.3" fill="#4d4d4d">-20</text>
<text transform="translate(126.4 932.4) scale(1 1.04)" text-anchor="end" font-size="22.3" fill="#4d4d4d">-10</text>
<text transform="translate(126.4 826.3) scale(1 1.04)" text-anchor="end" font-size="22.3" fill="#4d4d4d">0</text>
<text transform="translate(126.4 720.2) scale(1 1.04)" text-anchor="end" font-size="22.3" fill="#4d4d4d">10</text>
<path d="M172 1212.3V1219.8M229 1212.3V1219.8M290 1212.3V1219.8M349 1212.3V1219.8M410 1212.3V1219.8M469 1212.3V1219.8M530 1212.3V1219.8M591 1212.3V1219.8M650 1212.3V1219.8M711 1212.3V1219.8M770 1212.3V1219.8M830.9 1212.3V1219.8" stroke="#333333" stroke-width="2.2" fill="none"/>
<text transform="translate(171.4 1225.5) rotate(-60) scale(1 1.04)" y="15.6" text-anchor="end" font-size="22.3" fill="#4d4d4d">Feb-2016</text>
<text transform="translate(228.4 1225.5) rotate(-60) scale(1 1.04)" y="15.6" text-anchor="end" font-size="22.3" fill="#4d4d4d">Mar-2016</text>
<text transform="translate(289.4 1225.5) rotate(-60) scale(1 1.04)" y="15.6" text-anchor="end" font-size="22.3" fill="#4d4d4d">Apr-2016</text>
<text transform="translate(348.4 1225.5) rotate(-60) scale(1 1.04)" y="15.6" text-anchor="end" font-size="22.3" fill="#4d4d4d">May-2016</text>
<text transform="translate(409.4 1225.5) rotate(-60) scale(1 1.04)" y="15.6" text-anchor="end" font-size="22.3" fill="#4d4d4d">Jun-2016</text>
<text transform="translate(468.4 1225.5) rotate(-60) scale(1 1.04)" y="15.6" text-anchor="end" font-size="22.3" fill="#4d4d4d">Jul-2016</text>
<text transform="translate(529.4 1225.5) rotate(-60) scale(1 1.04)" y="15.6" text-anchor="end" font-size="22.3" fill="#4d4d4d">Aug-2016</text>
<text transform="translate(590.4 1225.5) rotate(-60) scale(1 1.04)" y="15.6" text-anchor="end" font-size="22.3" fill="#4d4d4d">Sep-2016</text>
<text transform="translate(649.4 1225.5) rotate(-60) scale(1 1.04)" y="15.6" text-anchor="end" font-size="22.3" fill="#4d4d4d">Oct-2016</text>
<text transform="translate(710.4 1225.5) rotate(-60) scale(1 1.04)" y="15.6" text-anchor="end" font-size="22.3" fill="#4d4d4d">Nov-2016</text>
<text transform="translate(769.4 1225.5) rotate(-60) scale(1 1.04)" y="15.6" text-anchor="end" font-size="22.3" fill="#4d4d4d">Dec-2016</text>
<text transform="translate(830.3 1225.5) rotate(-60) scale(1 1.04)" y="15.6" text-anchor="end" font-size="22.3" fill="#4d4d4d">Jan-2017</text>
<text transform="translate(52.7 950.1) rotate(-90) scale(1 1.04)" text-anchor="middle" font-size="27.65" fill="#000">Avg. Daily WTD (cm),</text>
<text transform="translate(81.5 947) rotate(-90) scale(1 1.04)" text-anchor="middle" font-size="27.65" fill="#000">Burned Site</text>
<text transform="translate(501.9 1347.8) scale(1 1.04)" text-anchor="middle" font-size="27.65" fill="#000">Month-Year</text>
<text x="4.6" y="685.6" font-size="34.5" font-weight="bold" fill="#000">C</text>
<rect x="999.6" y="689.4" width="724.9" height="522.8" fill="#fff"/>
<path d="M999.6 1189.3H1724.5M999.6 1083.2H1724.5M999.6 977.1H1724.5M999.6 871H1724.5M999.6 765H1724.5" stroke="#ebebeb" stroke-width="1.2" fill="none"/>
<path d="M999.6 1136.3H1724.5M999.6 1030.2H1724.5M999.6 924.1H1724.5M999.6 818H1724.5M999.6 711.9H1724.5" stroke="#ebebeb" stroke-width="2.2" fill="none"/>
<path d="M1020 689.4V1212.2M1045 689.4V1212.2M1067.5 689.4V1212.2M1092.5 689.4V1212.2M1116.7 689.4V1212.2M1141.6 689.4V1212.2M1165.8 689.4V1212.2M1190.8 689.4V1212.2M1215.7 689.4V1212.2M1239.9 689.4V1212.2M1264.9 689.4V1212.2M1289 689.4V1212.2M1314 689.4V1212.2M1339 689.4V1212.2M1361.5 689.4V1212.2M1386.5 689.4V1212.2M1410.7 689.4V1212.2M1435.6 689.4V1212.2M1459.8 689.4V1212.2M1484.8 689.4V1212.2M1509.7 689.4V1212.2M1533.9 689.4V1212.2M1558.9 689.4V1212.2M1583 689.4V1212.2M1608 689.4V1212.2M1633 689.4V1212.2M1655.5 689.4V1212.2M1680.5 689.4V1212.2M1704.7 689.4V1212.2" stroke="#ebebeb" stroke-width="2.2" fill="none"/>
<path d="M999.6 818H1724.5" stroke="#000" stroke-width="2.6" stroke-dasharray="2.6 7.25" stroke-dashoffset="1.9" fill="none"/>
<path d="M1033.7 873.9L1035 858.4L1035.8 844.1L1036.8 858.4L1037.8 845.4L1038.9 837.2L1039.6 855.8L1040.9 861L1042 862.3L1043 883L1044 886.9L1045.1 897.3L1045.9 918L1046.9 885.6L1047.9 905L1049.2 938.7L1053.1 1004.8L1382.4 822.9L1383.4 764.2L1385.2 808.4L1386.9 827.1L1388.9 762.1L1390.7 804.3L1392.1 829.9L1394.2 827.8L1396.7 843L1398.6 814L1400.7 811.2L1401.8 796.7L1403.9 815.3L1405.2 830.5L1406.6 796L1408.7 816.7L1410.8 834.7L1412.1 825L1414.2 838.8L1416.3 856.8L1417.7 849.9L1419.1 814L1421.1 796L1422.8 831.9L1424.6 814L1426 792.5L1428 816.7L1429.4 823.6L1430.8 815.3L1432.5 811.9L1434.3 823.6L1436.1 838.8L1437.7 857.5L1439.8 837.5L1441.6 820.9L1443.9 847.1L1446 863.7L1447.4 867.9L1448.5 745.6L1450.1 808.4L1451.5 789.1L1452.9 789.1L1454.3 825L1456.4 814L1458.4 816.7L1460.5 840.2L1462.3 859.6L1463.7 856.8L1465.3 876.1L1467.1 893.4L1468.4 878.9L1469.5 841.6L1471.1 819.5L1472.9 844.4L1475 862.3L1477.5 837.5L1479.9 854L1481.7 865.1L1483.3 852.7L1485.8 836.1L1488.1 819.5L1490.2 841.6L1491.9 856.8L1493.7 844.4L1495.1 840.2L1496.4 844.4L1497.8 815.3L1499.6 840.2L1501 856.1L1502.7 849.9L1503.8 816.7L1505.1 742.1L1506.8 786.3L1508.2 816.7L1509.6 849.9L1510.9 816.7L1512.3 813.3L1513.7 816.7L1515.1 830.5L1516.9 849.2L1518.5 838.8L1520.6 834.7L1522 825L1523.4 791.9L1525 808.4L1526.8 808.4L1528.9 816.7L1531 829.2L1533.1 830.5L1535.1 829.2L1537.5 855.4L1539.7 779.4L1541.3 830.5L1543.4 857.5L1545.2 810.5L1546.9 814L1548.9 833.3L1551 834.7L1553.8 854L1556.3 819.5L1557.9 844.4L1560 860.9L1560.3 859.6L1561.8 834.7L1563.5 849.9L1565.1 827.8L1566.9 844.4L1568.6 873.4L1570.4 865.1L1572.5 878.2L1573.6 830.5L1574.8 738L1576.2 802.9L1578 844.4L1580.3 878.9L1582.1 855.4L1583.9 866.5L1585.6 892.7L1587.3 920.4L1588.6 938.3L1590.4 924.5L1592.2 919L1593.9 906.5L1595.7 869.9L1597.3 881.7L1598.7 890L1600.1 919L1601.8 935.6L1602.9 946.6L1604.5 959.1L1605.6 943.9L1606.7 892.7L1608 852.7L1609.8 849.9L1611.6 872L1613.2 833.3L1615.3 844.4L1616.8 822.9L1618.3 849.9L1620.1 851.3L1622.2 873.4L1624 885.8L1625.7 865.1L1627.3 859.6L1628.4 849.9L1630.5 840.2L1632.3 852.7L1634 872L1635.6 898.3L1637.4 906.5L1638.4 927.3L1640.2 898.9L1642 905.2L1643.6 924.5L1645.7 946.6L1647.5 919L1649.2 890L1651.2 885.8L1652.6 873.4L1654 884.4L1656.1 873.4L1658.1 844.4L1659.5 789.1L1660.5 773.9L1661.9 827.8L1663.7 860.9L1665.1 872L1667.1 883.7L1669.2 869.2L1671 881.7L1672.4 872L1673.2 820.9L1674.7 844.4L1677.1 873.4L1679.3 849.9L1680.7 830.5L1681.2 808.4L1683 826.4L1684.1 789.1L1685.1 769.7L1686.5 789.1L1687.9 816.7L1689.2 830.5L1690.6 814L1691.7 826.4" stroke="#c6862e" stroke-width="2.2" fill="none" stroke-linejoin="round" stroke-linecap="butt" />
<path d="M1033.7 873.9L1035 858.4L1035.8 844.1L1036.8 858.4L1037.8 845.4L1038.9 837.2L1039.6 855.8L1040.9 861L1042 862.3L1043 883L1044 886.9L1045.1 897.3L1045.9 918L1046.9 885.6L1047.9 905L1049.2 938.7L1053.1 1004.8" stroke="#c6862e" stroke-width="2.8" fill="none" stroke-linejoin="round" stroke-linecap="butt" />
<path d="M1382.4 822.9L1383.4 764.2L1385.2 808.4L1386.9 827.1L1388.9 762.1L1390.7 804.3L1392.1 829.9L1394.2 827.8L1396.7 843L1398.6 814L1400.7 811.2L1401.8 796.7L1403.9 815.3L1405.2 830.5L1406.6 796L1408.7 816.7L1410.8 834.7L1412.1 825L1414.2 838.8L1416.3 856.8L1417.7 849.9L1419.1 814L1421.1 796L1422.8 831.9L1424.6 814L1426 792.5L1428 816.7L1429.4 823.6L1430.8 815.3L1432.5 811.9L1434.3 823.6L1436.1 838.8L1437.7 857.5L1439.8 837.5L1441.6 820.9L1443.9 847.1L1446 863.7L1447.4 867.9L1448.5 745.6L1450.1 808.4L1451.5 789.1L1452.9 789.1L1454.3 825L1456.4 814L1458.4 816.7L1460.5 840.2L1462.3 859.6L1463.7 856.8L1465.3 876.1L1467.1 893.4L1468.4 878.9L1469.5 841.6L1471.1 819.5L1472.9 844.4L1475 862.3L1477.5 837.5L1479.9 854L1481.7 865.1L1483.3 852.7L1485.8 836.1L1488.1 819.5L1490.2 841.6L1491.9 856.8L1493.7 844.4L1495.1 840.2L1496.4 844.4L1497.8 815.3L1499.6 840.2L1501 856.1L1502.7 849.9L1503.8 816.7L1505.1 742.1L1506.8 786.3L1508.2 816.7L1509.6 849.9L1510.9 816.7L1512.3 813.3L1513.7 816.7L1515.1 830.5L1516.9 849.2L1518.5 838.8L1520.6 834.7L1522 825L1523.4 791.9L1525 808.4L1526.8 808.4L1528.9 816.7L1531 829.2L1533.1 830.5L1535.1 829.2L1537.5 855.4L1539.7 779.4L1541.3 830.5L1543.4 857.5L1545.2 810.5L1546.9 814L1548.9 833.3L1551 834.7L1553.8 854L1556.3 819.5L1557.9 844.4L1560 860.9L1560.3 859.6L1561.8 834.7L1563.5 849.9L1565.1 827.8L1566.9 844.4L1568.6 873.4L1570.4 865.1L1572.5 878.2L1573.6 830.5L1574.8 738L1576.2 802.9L1578 844.4L1580.3 878.9L1582.1 855.4L1583.9 866.5L1585.6 892.7L1587.3 920.4L1588.6 938.3L1590.4 924.5L1592.2 919L1593.9 906.5L1595.7 869.9L1597.3 881.7L1598.7 890L1600.1 919L1601.8 935.6L1602.9 946.6L1604.5 959.1L1605.6 943.9L1606.7 892.7L1608 852.7L1609.8 849.9L1611.6 872L1613.2 833.3L1615.3 844.4L1616.8 822.9L1618.3 849.9L1620.1 851.3L1622.2 873.4L1624 885.8L1625.7 865.1L1627.3 859.6L1628.4 849.9L1630.5 840.2L1632.3 852.7L1634 872L1635.6 898.3L1637.4 906.5L1638.4 927.3L1640.2 898.9L1642 905.2L1643.6 924.5L1645.7 946.6L1647.5 919L1649.2 890L1651.2 885.8L1652.6 873.4L1654 884.4L1656.1 873.4L1658.1 844.4L1659.5 789.1L1660.5 773.9L1661.9 827.8L1663.7 860.9L1665.1 872L1667.1 883.7L1669.2 869.2L1671 881.7L1672.4 872L1673.2 820.9L1674.7 844.4L1677.1 873.4L1679.3 849.9L1680.7 830.5L1681.2 808.4L1683 826.4L1684.1 789.1L1685.1 769.7L1686.5 789.1L1687.9 816.7L1689.2 830.5L1690.6 814L1691.7 826.4" stroke="#c6862e" stroke-width="2.8" fill="none" stroke-linejoin="round" stroke-linecap="butt" />
<path d="M1031.6 1161.5L1033.2 1148.5L1034.7 1135.6L1035.8 1094.1L1036.8 1125.2L1037.8 1092.8L1038.9 1091.6L1039.6 1125.2L1040.9 1126.5L1042 1130.4L1043.3 1140.8L1044.6 1142.1L1045.6 1153.7L1046.6 1127.8L1047.7 1135.6L1048.7 1153.7L1053.1 1196.5L1382.3 1008.6L1383.2 899.5L1384.8 938.9L1386 983.3L1387.3 1016.6L1388.9 888.4L1390.3 946.3L1391.9 971L1393.7 947.5L1395.3 978.4L1396.9 1001.8L1398.6 937.1L1400.2 938.9L1401.8 900.1L1403.5 946.3L1405.1 980.8L1406.6 903.2L1408.2 940.1L1410.1 992.5L1412.2 956.2L1413.8 983.3L1415.6 1020.3L1416.9 1032L1418.1 995.6L1418.7 951.2L1419.7 973.4L1421.2 906.9L1422.4 946.3L1423.6 971L1424.9 946.3L1426.1 898.2L1427.3 946.3L1428.6 971L1429.8 948.8L1431 935.2L1432.3 926.6L1433.5 952.5L1434.1 937.7L1435.3 983.3L1436.6 1008L1437.8 1022.8L1439 983.3L1440 962.3L1441.1 932.7L1442.7 971L1444 995.6L1445.2 1024L1446.8 1042.5L1447.7 995.6L1448.2 909.3L1448.9 840.3L1450.1 897L1450.8 943.8L1452.4 897L1453.8 971L1455.1 936.4L1456.3 936.4L1457.8 946.3L1459.4 951.2L1460.6 989.5L1462.5 1022.8L1464.3 1030.1L1466.2 1052.3L1468 1068.4L1469 1008L1469.6 958.6L1470.5 921.6L1471.7 958.6L1473.3 1001.8L1474.8 1035.1L1476 1001.8L1477.5 975.9L1479.1 1001.8L1480.4 1026.5L1481.6 1040L1482.8 1017.8L1484 1010.4L1485.9 989.5L1487.1 958.6L1488.4 938.9L1489.6 971L1490.8 1008L1492.4 1025.2L1493.9 990.7L1495.5 1001.8L1496.7 958.6L1497.7 934.6L1499.2 971L1500.4 1008L1501.7 1016.6L1502.5 1004.3L1503.8 1003L1504.6 934L1505.6 831.6L1506.9 909.3L1508.1 971L1509.6 1010.4L1510.8 953.7L1512.4 929L1513.6 946.3L1515.2 977.1L1516.7 1006.7L1518.6 989.5L1520.4 973.4L1521.9 946.3L1523.3 903.2L1524.7 943.8L1526.6 919.2L1528.4 940.1L1529.3 927.8L1530.3 974.7L1531.5 943.8L1532.8 958.6L1534 947.5L1535.8 995.6L1537.4 1011.7L1538.7 946.3L1539.7 876L1540.8 946.3L1542 995.6L1543.5 1022.8L1544.5 964.8L1545.1 932.7L1546.6 958.6L1547.5 956.2L1549 994.4L1550.6 957.4L1552.2 995.6L1554 1014.1L1555.3 971L1556.4 937.1L1558 977.1L1560 1022.8L1560.3 1022.8L1561.9 974.7L1563.4 998.1L1565.3 971.6L1566.9 1001.8L1569 1024L1571.4 1032L1572.7 1024L1573.9 958.6L1575.1 840.9L1576.7 971L1578.2 1001.8L1580.4 1020.3L1582.2 988.2L1583.8 1014.1L1585.6 1037.5L1587.5 1052.3L1588.7 1059.7L1590.6 1042.5L1591.8 1033.8L1593.3 1020.3L1595.1 991.9L1596.5 1016.6L1598.2 1019.1L1599.8 1038.8L1601.4 1056L1602.9 1044.9L1604.7 1062.2L1606 1044.9L1607.2 995.6L1608.8 984.5L1610.3 990.7L1611.3 1000.6L1612.7 983.3L1613.7 961.1L1615.2 985.8L1616.7 951.2L1618.3 995.6L1620.1 998.1L1621.4 1016.6L1623.2 1030.1L1625.1 1014.1L1626.3 1021.5L1627.8 993.2L1629.4 1010.4L1630.6 995.6L1632.5 1014.1L1634.3 1032.6L1636.2 1048.6L1638 1059.7L1639.6 1044.9L1640.9 1023.4L1642.3 1038.8L1644.2 1057.3L1645.8 1072.1L1647.3 1052.3L1648.7 1035.1L1650 1038.8L1651.3 1009.2L1653.2 1024L1654.7 1042.5L1655.9 1022.8L1657.7 1008L1659 971L1659.8 921.6L1660.5 895.1L1661.4 971L1663.3 1020.3L1665.1 1031.4L1667 1051.1L1668.8 1040L1670.1 1049.9L1671.7 1059.7L1672.5 1008L1673.2 963L1674.6 995.6L1676.2 1020.3L1677.8 1038.8L1679.3 1008L1680.6 989.5L1681.5 957.4L1683.3 979.6L1683.6 948.8L1684.5 921.6L1685.2 885.3L1686.5 921.6L1688 971L1689.2 989.5L1690.2 968.5L1691 955.6L1691.9 972.2" stroke="#7a70b0" stroke-width="2.2" fill="none" stroke-linejoin="round" stroke-linecap="butt" />
<path d="M1031.6 1161.5L1033.2 1148.5L1034.7 1135.6L1035.8 1094.1L1036.8 1125.2L1037.8 1092.8L1038.9 1091.6L1039.6 1125.2L1040.9 1126.5L1042 1130.4L1043.3 1140.8L1044.6 1142.1L1045.6 1153.7L1046.6 1127.8L1047.7 1135.6L1048.7 1153.7L1053.1 1196.5" stroke="#7a70b0" stroke-width="2.8" fill="none" stroke-linejoin="round" stroke-linecap="butt" />
<path d="M1382.3 1008.6L1383.2 899.5L1384.8 938.9L1386 983.3L1387.3 1016.6L1388.9 888.4L1390.3 946.3L1391.9 971L1393.7 947.5L1395.3 978.4L1396.9 1001.8L1398.6 937.1L1400.2 938.9L1401.8 900.1L1403.5 946.3L1405.1 980.8L1406.6 903.2L1408.2 940.1L1410.1 992.5L1412.2 956.2L1413.8 983.3L1415.6 1020.3L1416.9 1032L1418.1 995.6L1418.7 951.2L1419.7 973.4L1421.2 906.9L1422.4 946.3L1423.6 971L1424.9 946.3L1426.1 898.2L1427.3 946.3L1428.6 971L1429.8 948.8L1431 935.2L1432.3 926.6L1433.5 952.5L1434.1 937.7L1435.3 983.3L1436.6 1008L1437.8 1022.8L1439 983.3L1440 962.3L1441.1 932.7L1442.7 971L1444 995.6L1445.2 1024L1446.8 1042.5L1447.7 995.6L1448.2 909.3L1448.9 840.3L1450.1 897L1450.8 943.8L1452.4 897L1453.8 971L1455.1 936.4L1456.3 936.4L1457.8 946.3L1459.4 951.2L1460.6 989.5L1462.5 1022.8L1464.3 1030.1L1466.2 1052.3L1468 1068.4L1469 1008L1469.6 958.6L1470.5 921.6L1471.7 958.6L1473.3 1001.8L1474.8 1035.1L1476 1001.8L1477.5 975.9L1479.1 1001.8L1480.4 1026.5L1481.6 1040L1482.8 1017.8L1484 1010.4L1485.9 989.5L1487.1 958.6L1488.4 938.9L1489.6 971L1490.8 1008L1492.4 1025.2L1493.9 990.7L1495.5 1001.8L1496.7 958.6L1497.7 934.6L1499.2 971L1500.4 1008L1501.7 1016.6L1502.5 1004.3L1503.8 1003L1504.6 934L1505.6 831.6L1506.9 909.3L1508.1 971L1509.6 1010.4L1510.8 953.7L1512.4 929L1513.6 946.3L1515.2 977.1L1516.7 1006.7L1518.6 989.5L1520.4 973.4L1521.9 946.3L1523.3 903.2L1524.7 943.8L1526.6 919.2L1528.4 940.1L1529.3 927.8L1530.3 974.7L1531.5 943.8L1532.8 958.6L1534 947.5L1535.8 995.6L1537.4 1011.7L1538.7 946.3L1539.7 876L1540.8 946.3L1542 995.6L1543.5 1022.8L1544.5 964.8L1545.1 932.7L1546.6 958.6L1547.5 956.2L1549 994.4L1550.6 957.4L1552.2 995.6L1554 1014.1L1555.3 971L1556.4 937.1L1558 977.1L1560 1022.8L1560.3 1022.8L1561.9 974.7L1563.4 998.1L1565.3 971.6L1566.9 1001.8L1569 1024L1571.4 1032L1572.7 1024L1573.9 958.6L1575.1 840.9L1576.7 971L1578.2 1001.8L1580.4 1020.3L1582.2 988.2L1583.8 1014.1L1585.6 1037.5L1587.5 1052.3L1588.7 1059.7L1590.6 1042.5L1591.8 1033.8L1593.3 1020.3L1595.1 991.9L1596.5 1016.6L1598.2 1019.1L1599.8 1038.8L1601.4 1056L1602.9 1044.9L1604.7 1062.2L1606 1044.9L1607.2 995.6L1608.8 984.5L1610.3 990.7L1611.3 1000.6L1612.7 983.3L1613.7 961.1L1615.2 985.8L1616.7 951.2L1618.3 995.6L1620.1 998.1L1621.4 1016.6L1623.2 1030.1L1625.1 1014.1L1626.3 1021.5L1627.8 993.2L1629.4 1010.4L1630.6 995.6L1632.5 1014.1L1634.3 1032.6L1636.2 1048.6L1638 1059.7L1639.6 1044.9L1640.9 1023.4L1642.3 1038.8L1644.2 1057.3L1645.8 1072.1L1647.3 1052.3L1648.7 1035.1L1650 1038.8L1651.3 1009.2L1653.2 1024L1654.7 1042.5L1655.9 1022.8L1657.7 1008L1659 971L1659.8 921.6L1660.5 895.1L1661.4 971L1663.3 1020.3L1665.1 1031.4L1667 1051.1L1668.8 1040L1670.1 1049.9L1671.7 1059.7L1672.5 1008L1673.2 963L1674.6 995.6L1676.2 1020.3L1677.8 1038.8L1679.3 1008L1680.6 989.5L1681.5 957.4L1683.3 979.6L1683.6 948.8L1684.5 921.6L1685.2 885.3L1686.5 921.6L1688 971L1689.2 989.5L1690.2 968.5L1691 955.6L1691.9 972.2" stroke="#7a70b0" stroke-width="2.8" fill="none" stroke-linejoin="round" stroke-linecap="butt" />
<rect x="1543.7" y="1079.5" width="143.8" height="120.5" fill="#fff"/>
<path d="M1561.4 1126.3H1593.2" stroke="#c6862e" stroke-width="2.3" fill="none"/>
<text transform="translate(1612 1134.8) scale(1 1.04)" font-size="21.8" fill="#000">Bog</text>
<path d="M1561.4 1166.3H1593.2" stroke="#7a70b0" stroke-width="2.3" fill="none"/>
<text transform="translate(1612 1174.8) scale(1 1.04)" font-size="21.8" fill="#000">Forest</text>
<rect x="999.6" y="689.4" width="724.9" height="522.8" fill="none" stroke="#4d4d4d" stroke-width="1.8"/>
<path d="M992.1 1136.3H999.6M992.1 1030.2H999.6M992.1 924.1H999.6M992.1 818H999.6M992.1 711.9H999.6" stroke="#333333" stroke-width="2.2" fill="none"/>
<text transform="translate(986.6 1144.6) scale(1 1.04)" text-anchor="end" font-size="22.3" fill="#4d4d4d">-30</text>
<text transform="translate(986.6 1038.5) scale(1 1.04)" text-anchor="end" font-size="22.3" fill="#4d4d4d">-20</text>
<text transform="translate(986.6 932.4) scale(1 1.04)" text-anchor="end" font-size="22.3" fill="#4d4d4d">-10</text>
<text transform="translate(986.6 826.3) scale(1 1.04)" text-anchor="end" font-size="22.3" fill="#4d4d4d">0</text>
<text transform="translate(986.6 720.2) scale(1 1.04)" text-anchor="end" font-size="22.3" fill="#4d4d4d">10</text>
<path d="M1020 1212.2V1219.7M1045 1212.2V1219.7M1067.5 1212.2V1219.7M1092.5 1212.2V1219.7M1116.7 1212.2V1219.7M1141.6 1212.2V1219.7M1165.8 1212.2V1219.7M1190.8 1212.2V1219.7M1215.7 1212.2V1219.7M1239.9 1212.2V1219.7M1264.9 1212.2V1219.7M1289 1212.2V1219.7M1314 1212.2V1219.7M1339 1212.2V1219.7M1361.5 1212.2V1219.7M1386.5 1212.2V1219.7M1410.7 1212.2V1219.7M1435.6 1212.2V1219.7M1459.8 1212.2V1219.7M1484.8 1212.2V1219.7M1509.7 1212.2V1219.7M1533.9 1212.2V1219.7M1558.9 1212.2V1219.7M1583 1212.2V1219.7M1608 1212.2V1219.7M1633 1212.2V1219.7M1655.5 1212.2V1219.7M1680.5 1212.2V1219.7M1704.7 1212.2V1219.7" stroke="#333333" stroke-width="2.2" fill="none"/>
<text transform="translate(1019.4 1225.4) rotate(-60) scale(1 1.04)" y="15.6" text-anchor="end" font-size="22.3" fill="#4d4d4d">Jan-2017</text>
<text transform="translate(1044.4 1225.4) rotate(-60) scale(1 1.04)" y="15.6" text-anchor="end" font-size="22.3" fill="#4d4d4d">Feb-2017</text>
<text transform="translate(1066.9 1225.4) rotate(-60) scale(1 1.04)" y="15.6" text-anchor="end" font-size="22.3" fill="#4d4d4d">Mar-2017</text>
<text transform="translate(1091.9 1225.4) rotate(-60) scale(1 1.04)" y="15.6" text-anchor="end" font-size="22.3" fill="#4d4d4d">Apr-2017</text>
<text transform="translate(1116.1 1225.4) rotate(-60) scale(1 1.04)" y="15.6" text-anchor="end" font-size="22.3" fill="#4d4d4d">May-2017</text>
<text transform="translate(1141 1225.4) rotate(-60) scale(1 1.04)" y="15.6" text-anchor="end" font-size="22.3" fill="#4d4d4d">Jun-2017</text>
<text transform="translate(1165.2 1225.4) rotate(-60) scale(1 1.04)" y="15.6" text-anchor="end" font-size="22.3" fill="#4d4d4d">Jul-2017</text>
<text transform="translate(1190.2 1225.4) rotate(-60) scale(1 1.04)" y="15.6" text-anchor="end" font-size="22.3" fill="#4d4d4d">Aug-2017</text>
<text transform="translate(1215.1 1225.4) rotate(-60) scale(1 1.04)" y="15.6" text-anchor="end" font-size="22.3" fill="#4d4d4d">Sep-2017</text>
<text transform="translate(1239.3 1225.4) rotate(-60) scale(1 1.04)" y="15.6" text-anchor="end" font-size="22.3" fill="#4d4d4d">Oct-2017</text>
<text transform="translate(1264.3 1225.4) rotate(-60) scale(1 1.04)" y="15.6" text-anchor="end" font-size="22.3" fill="#4d4d4d">Nov-2017</text>
<text transform="translate(1288.4 1225.4) rotate(-60) scale(1 1.04)" y="15.6" text-anchor="end" font-size="22.3" fill="#4d4d4d">Dec-2017</text>
<text transform="translate(1313.4 1225.4) rotate(-60) scale(1 1.04)" y="15.6" text-anchor="end" font-size="22.3" fill="#4d4d4d">Jan-2018</text>
<text transform="translate(1338.4 1225.4) rotate(-60) scale(1 1.04)" y="15.6" text-anchor="end" font-size="22.3" fill="#4d4d4d">Feb-2018</text>
<text transform="translate(1360.9 1225.4) rotate(-60) scale(1 1.04)" y="15.6" text-anchor="end" font-size="22.3" fill="#4d4d4d">Mar-2018</text>
<text transform="translate(1385.9 1225.4) rotate(-60) scale(1 1.04)" y="15.6" text-anchor="end" font-size="22.3" fill="#4d4d4d">Apr-2018</text>
<text transform="translate(1410.1 1225.4) rotate(-60) scale(1 1.04)" y="15.6" text-anchor="end" font-size="22.3" fill="#4d4d4d">May-2018</text>
<text transform="translate(1435 1225.4) rotate(-60) scale(1 1.04)" y="15.6" text-anchor="end" font-size="22.3" fill="#4d4d4d">Jun-2018</text>
<text transform="translate(1459.2 1225.4) rotate(-60) scale(1 1.04)" y="15.6" text-anchor="end" font-size="22.3" fill="#4d4d4d">Jul-2018</text>
<text transform="translate(1484.2 1225.4) rotate(-60) scale(1 1.04)" y="15.6" text-anchor="end" font-size="22.3" fill="#4d4d4d">Aug-2018</text>
<text transform="translate(1509.1 1225.4) rotate(-60) scale(1 1.04)" y="15.6" text-anchor="end" font-size="22.3" fill="#4d4d4d">Sep-2018</text>
<text transform="translate(1533.3 1225.4) rotate(-60) scale(1 1.04)" y="15.6" text-anchor="end" font-size="22.3" fill="#4d4d4d">Oct-2018</text>
<text transform="translate(1558.3 1225.4) rotate(-60) scale(1 1.04)" y="15.6" text-anchor="end" font-size="22.3" fill="#4d4d4d">Nov-2018</text>
<text transform="translate(1582.4 1225.4) rotate(-60) scale(1 1.04)" y="15.6" text-anchor="end" font-size="22.3" fill="#4d4d4d">Dec-2018</text>
<text transform="translate(1607.4 1225.4) rotate(-60) scale(1 1.04)" y="15.6" text-anchor="end" font-size="22.3" fill="#4d4d4d">Jan-2019</text>
<text transform="translate(1632.4 1225.4) rotate(-60) scale(1 1.04)" y="15.6" text-anchor="end" font-size="22.3" fill="#4d4d4d">Feb-2019</text>
<text transform="translate(1654.9 1225.4) rotate(-60) scale(1 1.04)" y="15.6" text-anchor="end" font-size="22.3" fill="#4d4d4d">Mar-2019</text>
<text transform="translate(1679.9 1225.4) rotate(-60) scale(1 1.04)" y="15.6" text-anchor="end" font-size="22.3" fill="#4d4d4d">Apr-2019</text>
<text transform="translate(1704.1 1225.4) rotate(-60) scale(1 1.04)" y="15.6" text-anchor="end" font-size="22.3" fill="#4d4d4d">May-2019</text>
<text transform="translate(912 950.1) rotate(-90) scale(1 1.04)" text-anchor="middle" font-size="27.65" fill="#000">Avg. Daily WTD (cm),</text>
<text transform="translate(942 947) rotate(-90) scale(1 1.04)" text-anchor="middle" font-size="27.65" fill="#000">Control Site</text>
<text transform="translate(1362 1347.9) scale(1 1.04)" text-anchor="middle" font-size="27.65" fill="#000">Month-Year</text>
<text x="912.6" y="685.6" font-size="34.5" font-weight="bold" fill="#000">D</text>
<rect x="139.4" y="1372.3" width="724.3" height="388.4" fill="#fff"/>
<path d="M139.4 1708.5H863.7M139.4 1637.6H863.7M139.4 1566.7H863.7M139.4 1495.8H863.7M139.4 1424.9H863.7" stroke="#ebebeb" stroke-width="1.7" fill="none"/>
<path d="M139.4 1744H863.7M139.4 1673H863.7M139.4 1602.1H863.7M139.4 1531.2H863.7M139.4 1460.3H863.7M139.4 1389.5H863.7" stroke="#ebebeb" stroke-width="2.2" fill="none"/>
<path d="M242.9 1372.3V1760.7M415.3 1372.3V1760.7M587.8 1372.3V1760.7M760.2 1372.3V1760.7" stroke="#ebebeb" stroke-width="2.7" fill="none"/>
<path d="M210.3 1434.1V1473.2M210.3 1505.3V1552" stroke="#333333" stroke-width="2.4" fill="none"/>
<circle cx="210.3" cy="1557.1" r="5.4" fill="#333333"/>
<circle cx="210.3" cy="1568.7" r="5.4" fill="#333333"/>
<circle cx="210.3" cy="1574" r="5.4" fill="#333333"/>
<circle cx="210.3" cy="1579.3" r="5.4" fill="#333333"/>
<circle cx="210.3" cy="1583.5" r="5.4" fill="#333333"/>
<circle cx="210.3" cy="1588.8" r="5.4" fill="#333333"/>
<rect x="181.3" y="1473.9" width="58" height="30.7" fill="#c6862e" stroke="#333333" stroke-width="2.6"/>
<path d="M181.3 1486.7H239.3" stroke="#333333" stroke-width="4.8" fill="none"/>
<path d="M275.1 1522.7V1532.8M275.1 1556.5V1587.8" stroke="#333333" stroke-width="2.4" fill="none"/>
<circle cx="275.1" cy="1595.2" r="5.4" fill="#333333"/>
<circle cx="275.1" cy="1608.9" r="5.4" fill="#333333"/>
<circle cx="275.1" cy="1628.4" r="5.4" fill="#333333"/>
<circle cx="275.1" cy="1638.9" r="5.4" fill="#333333"/>
<circle cx="275.1" cy="1644.9" r="5.4" fill="#333333"/>
<circle cx="275.1" cy="1650.1" r="5.4" fill="#333333"/>
<circle cx="275.1" cy="1663.9" r="5.4" fill="#333333"/>
<circle cx="275.1" cy="1675.5" r="5.4" fill="#333333"/>
<rect x="246" y="1533.5" width="58.2" height="22.3" fill="#7a70b0" stroke="#333333" stroke-width="2.6"/>
<path d="M246 1541.3H304.2" stroke="#333333" stroke-width="4.8" fill="none"/>
<path d="M382.9 1469V1503.6M382.9 1530.7V1568.7" stroke="#333333" stroke-width="2.4" fill="none"/>
<circle cx="382.9" cy="1571.9" r="5.4" fill="#333333"/>
<circle cx="382.9" cy="1576.1" r="5.4" fill="#333333"/>
<circle cx="382.9" cy="1580.4" r="5.4" fill="#333333"/>
<rect x="353.8" y="1504.3" width="58.2" height="25.7" fill="#c6862e" stroke="#333333" stroke-width="2.6"/>
<path d="M353.8 1517.4H412" stroke="#333333" stroke-width="4.8" fill="none"/>
<path d="M447.9 1527.5V1549.3M447.9 1604.7V1684" stroke="#333333" stroke-width="2.4" fill="none"/>
<rect x="418.7" y="1550" width="58.3" height="54" fill="#7a70b0" stroke="#333333" stroke-width="2.6"/>
<path d="M418.7 1568.7H477" stroke="#333333" stroke-width="4.8" fill="none"/>
<path d="M555.7 1430.7V1482.1M555.7 1525.4V1585" stroke="#333333" stroke-width="2.4" fill="none"/>
<circle cx="555.7" cy="1589.5" r="5.4" fill="#333333"/>
<rect x="526.5" y="1482.8" width="58.4" height="41.9" fill="#c6862e" stroke="#333333" stroke-width="2.6"/>
<path d="M526.5 1505.3H584.9" stroke="#333333" stroke-width="4.8" fill="none"/>
<path d="M620.5 1526V1540.2M620.5 1562.8V1566" stroke="#333333" stroke-width="2.4" fill="none"/>
<circle cx="620.5" cy="1595.2" r="5.4" fill="#333333"/>
<circle cx="620.5" cy="1614.2" r="5.4" fill="#333333"/>
<circle cx="620.5" cy="1618.4" r="5.4" fill="#333333"/>
<circle cx="620.5" cy="1626.9" r="5.4" fill="#333333"/>
<circle cx="620.5" cy="1632.2" r="5.4" fill="#333333"/>
<circle cx="620.5" cy="1636.4" r="5.4" fill="#333333"/>
<circle cx="620.5" cy="1644.2" r="5.4" fill="#333333"/>
<circle cx="620.5" cy="1692.4" r="5.4" fill="#333333"/>
<circle cx="620.5" cy="1698.8" r="5.4" fill="#333333"/>
<rect x="591.2" y="1540.9" width="58.6" height="21.2" fill="#7a70b0" stroke="#333333" stroke-width="2.6"/>
<path d="M591.2 1549.7H649.8" stroke="#333333" stroke-width="4.8" fill="none"/>
<path d="M728.3 1451V1481M728.3 1504.3V1521.2" stroke="#333333" stroke-width="2.4" fill="none"/>
<rect x="699" y="1481.7" width="58.7" height="21.9" fill="#c6862e" stroke="#333333" stroke-width="2.6"/>
<path d="M699 1494.3H757.7" stroke="#333333" stroke-width="4.8" fill="none"/>
<path d="M793.2 1521.2V1536.4M793.2 1555.4V1579.3" stroke="#333333" stroke-width="2.4" fill="none"/>
<circle cx="793.2" cy="1583.5" r="5.4" fill="#333333"/>
<circle cx="793.2" cy="1589.9" r="5.4" fill="#333333"/>
<circle cx="793.2" cy="1600.9" r="5.4" fill="#333333"/>
<circle cx="793.2" cy="1613.1" r="5.4" fill="#333333"/>
<circle cx="793.2" cy="1621.6" r="5.4" fill="#333333"/>
<rect x="763.9" y="1537.1" width="58.5" height="17.6" fill="#7a70b0" stroke="#333333" stroke-width="2.6"/>
<path d="M763.9 1545.1H822.4" stroke="#333333" stroke-width="4.8" fill="none"/>
<path d="M139.4 1495.8H863.7" stroke="#000" stroke-width="2.6" stroke-dasharray="2.6 7.25" stroke-dashoffset="1.9" fill="none"/>
<path d="M210.2 1488L217.8 1500.4H202.6Z" fill="#000"/>
<path d="M274.9 1549.3L282.5 1561.7H267.3Z" fill="#000"/>
<path d="M382.7 1511.2L390.3 1523.6H375.1Z" fill="#000"/>
<path d="M447.6 1574.9L455.2 1587.3H440Z" fill="#000"/>
<path d="M555.4 1499.2L563 1511.6H547.8Z" fill="#000"/>
<path d="M620.3 1556.3L627.9 1568.7H612.7Z" fill="#000"/>
<path d="M727.9 1483.7L735.5 1496.1H720.3Z" fill="#000"/>
<path d="M793 1543.6L800.6 1556H785.4Z" fill="#000"/>
<text transform="translate(209.3 1426) scale(1 1.04)" text-anchor="middle" font-size="25.3" fill="#000">ab</text>
<text transform="translate(274.5 1516.9) scale(1 1.04)" text-anchor="middle" font-size="25.3" fill="#000">d</text>
<text transform="translate(383.6 1460.5) scale(1 1.04)" text-anchor="middle" font-size="25.3" fill="#000">c</text>
<text transform="translate(447 1515.9) scale(1 1.04)" text-anchor="middle" font-size="25.3" fill="#000">e</text>
<text transform="translate(553.9 1423.9) scale(1 1.04)" text-anchor="middle" font-size="25.3" fill="#000">ac</text>
<text transform="translate(622.2 1519.7) scale(1 1.04)" text-anchor="middle" font-size="25.3" fill="#000">de</text>
<text transform="translate(727.9 1442.3) scale(1 1.04)" text-anchor="middle" font-size="25.3" fill="#000">b</text>
<text transform="translate(792.2 1514.8) scale(1 1.04)" text-anchor="middle" font-size="25.3" fill="#000">d</text>
<rect x="139.4" y="1372.3" width="724.3" height="388.4" fill="none" stroke="#4d4d4d" stroke-width="1.8"/>
<path d="M131.9 1744H139.4M131.9 1673H139.4M131.9 1602.1H139.4M131.9 1531.2H139.4M131.9 1460.3H139.4M131.9 1389.5H139.4" stroke="#333333" stroke-width="2.2" fill="none"/>
<text transform="translate(126.4 1752.2) scale(1 1.04)" text-anchor="end" font-size="22.3" fill="#4d4d4d">-35</text>
<text transform="translate(126.4 1681.3) scale(1 1.04)" text-anchor="end" font-size="22.3" fill="#4d4d4d">-25</text>
<text transform="translate(126.4 1610.4) scale(1 1.04)" text-anchor="end" font-size="22.3" fill="#4d4d4d">-15</text>
<text transform="translate(126.4 1539.5) scale(1 1.04)" text-anchor="end" font-size="22.3" fill="#4d4d4d">-5</text>
<text transform="translate(126.4 1468.6) scale(1 1.04)" text-anchor="end" font-size="22.3" fill="#4d4d4d">5</text>
<text transform="translate(126.4 1397.7) scale(1 1.04)" text-anchor="end" font-size="22.3" fill="#4d4d4d">15</text>
<path d="M242.9 1760.7V1768.2M415.3 1760.7V1768.2M587.8 1760.7V1768.2M760.2 1760.7V1768.2" stroke="#333333" stroke-width="2.2" fill="none"/>
<text transform="translate(242.3 1773.9) rotate(-60) scale(1 1.04)" y="15.6" text-anchor="end" font-size="22.3" fill="#4d4d4d">Summer (DJF)</text>
<text transform="translate(414.7 1773.9) rotate(-60) scale(1 1.04)" y="15.6" text-anchor="end" font-size="22.3" fill="#4d4d4d">Fall (MAM)</text>
<text transform="translate(587.2 1773.9) rotate(-60) scale(1 1.04)" y="15.6" text-anchor="end" font-size="22.3" fill="#4d4d4d">Winter (JJA)</text>
<text transform="translate(759.6 1773.9) rotate(-60) scale(1 1.04)" y="15.6" text-anchor="end" font-size="22.3" fill="#4d4d4d">Spring (SON)</text>
<text transform="translate(52.7 1566.3) rotate(-90) scale(1 1.04)" text-anchor="middle" font-size="27.65" fill="#000">Avg. Daily WTD (cm),</text>
<text transform="translate(81.5 1563.2) rotate(-90) scale(1 1.04)" text-anchor="middle" font-size="27.65" fill="#000">Burned Site</text>
<text transform="translate(501.4 1936.5) scale(1 1.04)" text-anchor="middle" font-size="27.65" fill="#000">Season</text>
<text x="6.4" y="1373.4" font-size="34.5" font-weight="bold" fill="#000">E</text>
<text transform="translate(278.6 2012.8) scale(1 1.04)" font-size="27" fill="#000">Patch:</text>
<path d="M388.6 1988V2019.4" stroke="#333333" stroke-width="2.2" fill="none"/>
<rect x="373.7" y="1994.5" width="29.8" height="18.6" fill="#c6862e" stroke="#333333" stroke-width="2.2"/>
<path d="M373.7 2003.7H403.5" stroke="#333333" stroke-width="2.4" fill="none"/>
<text transform="translate(423.4 2011.5) scale(1 1.04)" font-size="21.8" fill="#000">Burned Forest</text>
<path d="M596.3 1988V2019.4" stroke="#333333" stroke-width="2.2" fill="none"/>
<rect x="581.4" y="1994.5" width="29.8" height="18.6" fill="#7a70b0" stroke="#333333" stroke-width="2.2"/>
<path d="M581.4 2003.7H611.2" stroke="#333333" stroke-width="2.4" fill="none"/>
<text transform="translate(630.6 2011.5) scale(1 1.04)" font-size="21.8" fill="#000">Transition</text>
<rect x="999.6" y="1372.3" width="724.9" height="388.4" fill="#fff"/>
<path d="M999.6 1708.5H1724.5M999.6 1637.6H1724.5M999.6 1566.7H1724.5M999.6 1495.8H1724.5M999.6 1424.9H1724.5" stroke="#ebebeb" stroke-width="1.7" fill="none"/>
<path d="M999.6 1744H1724.5M999.6 1673H1724.5M999.6 1602.1H1724.5M999.6 1531.2H1724.5M999.6 1460.3H1724.5M999.6 1389.5H1724.5" stroke="#ebebeb" stroke-width="2.2" fill="none"/>
<path d="M1103.2 1372.3V1760.7M1275.8 1372.3V1760.7M1448.3 1372.3V1760.7M1620.9 1372.3V1760.7" stroke="#ebebeb" stroke-width="2.7" fill="none"/>
<path d="M1070.2 1499V1524.8M1070.2 1562.8V1615.3" stroke="#333333" stroke-width="2.4" fill="none"/>
<circle cx="1070.2" cy="1620.5" r="5.4" fill="#333333"/>
<rect x="1041.3" y="1525.5" width="57.8" height="36.6" fill="#c6862e" stroke="#333333" stroke-width="2.6"/>
<path d="M1041.3 1540.8H1099.1" stroke="#333333" stroke-width="4.8" fill="none"/>
<path d="M1135.1 1585.2V1623.3M1135.1 1659V1708.3" stroke="#333333" stroke-width="2.4" fill="none"/>
<circle cx="1135.1" cy="1712.5" r="5.4" fill="#333333"/>
<circle cx="1135.1" cy="1718.5" r="5.4" fill="#333333"/>
<circle cx="1135.1" cy="1724.5" r="5.4" fill="#333333"/>
<circle cx="1135.1" cy="1730.5" r="5.4" fill="#333333"/>
<circle cx="1135.1" cy="1736.5" r="5.4" fill="#333333"/>
<circle cx="1135.1" cy="1742.5" r="5.4" fill="#333333"/>
<circle cx="1135.1" cy="1748.5" r="5.4" fill="#333333"/>
<rect x="1106" y="1624" width="58.2" height="34.3" fill="#7a70b0" stroke="#333333" stroke-width="2.6"/>
<path d="M1106 1640.6H1164.2" stroke="#333333" stroke-width="4.8" fill="none"/>
<path d="M1242.9 1464.1V1492M1242.9 1514.4V1540.2" stroke="#333333" stroke-width="2.4" fill="none"/>
<circle cx="1242.9" cy="1458.8" r="5.4" fill="#333333"/>
<rect x="1213.8" y="1492.7" width="58.2" height="21" fill="#c6862e" stroke="#333333" stroke-width="2.6"/>
<path d="M1213.8 1500H1272" stroke="#333333" stroke-width="4.8" fill="none"/>
<path d="M1307.8 1541.7V1581.4M1307.8 1622.2V1657.1" stroke="#333333" stroke-width="2.4" fill="none"/>
<rect x="1278.7" y="1582.1" width="58.3" height="39.4" fill="#7a70b0" stroke="#333333" stroke-width="2.6"/>
<path d="M1278.7 1598.3H1337" stroke="#333333" stroke-width="4.8" fill="none"/>
<path d="M1415.7 1471.9V1499M1415.7 1520.1V1545.5" stroke="#333333" stroke-width="2.4" fill="none"/>
<circle cx="1415.7" cy="1445.1" r="5.4" fill="#333333"/>
<circle cx="1415.7" cy="1449.3" r="5.4" fill="#333333"/>
<circle cx="1415.7" cy="1453.5" r="5.4" fill="#333333"/>
<rect x="1386.5" y="1499.7" width="58.4" height="19.7" fill="#c6862e" stroke="#333333" stroke-width="2.6"/>
<path d="M1386.5 1511.7H1444.9" stroke="#333333" stroke-width="4.8" fill="none"/>
<path d="M1480.7 1540.2V1585.7M1480.7 1625.8V1662.8" stroke="#333333" stroke-width="2.4" fill="none"/>
<circle cx="1480.7" cy="1504.3" r="5.4" fill="#333333"/>
<circle cx="1480.7" cy="1511.7" r="5.4" fill="#333333"/>
<circle cx="1480.7" cy="1519.1" r="5.4" fill="#333333"/>
<rect x="1451.6" y="1586.4" width="58.2" height="38.7" fill="#7a70b0" stroke="#333333" stroke-width="2.6"/>
<path d="M1451.6 1612.1H1509.8" stroke="#333333" stroke-width="4.8" fill="none"/>
<path d="M1588.6 1470.9V1495.8M1588.6 1515.9V1536.4" stroke="#333333" stroke-width="2.4" fill="none"/>
<circle cx="1588.6" cy="1442.3" r="5.4" fill="#333333"/>
<circle cx="1588.6" cy="1458.4" r="5.4" fill="#333333"/>
<rect x="1559.4" y="1496.5" width="58.3" height="18.7" fill="#c6862e" stroke="#333333" stroke-width="2.6"/>
<path d="M1559.4 1504.9H1617.7" stroke="#333333" stroke-width="4.8" fill="none"/>
<path d="M1653.4 1536V1581.4M1653.4 1617.4V1638.5" stroke="#333333" stroke-width="2.4" fill="none"/>
<circle cx="1653.4" cy="1512.3" r="5.4" fill="#333333"/>
<circle cx="1653.4" cy="1528.1" r="5.4" fill="#333333"/>
<rect x="1624.4" y="1582.1" width="58" height="34.6" fill="#7a70b0" stroke="#333333" stroke-width="2.6"/>
<path d="M1624.4 1601.9H1682.4" stroke="#333333" stroke-width="4.8" fill="none"/>
<path d="M999.6 1495.8H1724.5" stroke="#000" stroke-width="2.6" stroke-dasharray="2.6 7.25" stroke-dashoffset="1.9" fill="none"/>
<path d="M1069.8 1536.6L1077.4 1549H1062.2Z" fill="#000"/>
<path d="M1134.7 1643.6L1142.3 1656H1127.1Z" fill="#000"/>
<path d="M1242.7 1494.9L1250.3 1507.3H1235.1Z" fill="#000"/>
<path d="M1307.6 1592.2L1315.2 1604.6H1300Z" fill="#000"/>
<path d="M1415.4 1501.3L1423 1513.7H1407.8Z" fill="#000"/>
<path d="M1480.3 1597.9L1487.9 1610.3H1472.7Z" fill="#000"/>
<path d="M1588.3 1497.7L1595.9 1510.1H1580.7Z" fill="#000"/>
<path d="M1653 1591.1L1660.6 1603.5H1645.4Z" fill="#000"/>
<text transform="translate(1069.3 1484.8) scale(1 1.04)" text-anchor="middle" font-size="25.3" fill="#000">a</text>
<text transform="translate(1135.3 1575.5) scale(1 1.04)" text-anchor="middle" font-size="25.3" fill="#000">c</text>
<text transform="translate(1243.6 1448.7) scale(1 1.04)" text-anchor="middle" font-size="25.3" fill="#000">b</text>
<text transform="translate(1307 1537) scale(1 1.04)" text-anchor="middle" font-size="25.3" fill="#000">d</text>
<text transform="translate(1416 1435.5) scale(1 1.04)" text-anchor="middle" font-size="25.3" fill="#000">b</text>
<text transform="translate(1480.1 1488) scale(1 1.04)" text-anchor="middle" font-size="25.3" fill="#000">d</text>
<text transform="translate(1587.9 1430.3) scale(1 1.04)" text-anchor="middle" font-size="25.3" fill="#000">b</text>
<text transform="translate(1652.2 1488) scale(1 1.04)" text-anchor="middle" font-size="25.3" fill="#000">d</text>
<rect x="999.6" y="1372.3" width="724.9" height="388.4" fill="none" stroke="#4d4d4d" stroke-width="1.8"/>
<path d="M992.1 1744H999.6M992.1 1673H999.6M992.1 1602.1H999.6M992.1 1531.2H999.6M992.1 1460.3H999.6M992.1 1389.5H999.6" stroke="#333333" stroke-width="2.2" fill="none"/>
<text transform="translate(986.6 1752.2) scale(1 1.04)" text-anchor="end" font-size="22.3" fill="#4d4d4d">-35</text>
<text transform="translate(986.6 1681.3) scale(1 1.04)" text-anchor="end" font-size="22.3" fill="#4d4d4d">-25</text>
<text transform="translate(986.6 1610.4) scale(1 1.04)" text-anchor="end" font-size="22.3" fill="#4d4d4d">-15</text>
<text transform="translate(986.6 1539.5) scale(1 1.04)" text-anchor="end" font-size="22.3" fill="#4d4d4d">-5</text>
<text transform="translate(986.6 1468.6) scale(1 1.04)" text-anchor="end" font-size="22.3" fill="#4d4d4d">5</text>
<text transform="translate(986.6 1397.7) scale(1 1.04)" text-anchor="end" font-size="22.3" fill="#4d4d4d">15</text>
<path d="M1103.2 1760.7V1768.2M1275.8 1760.7V1768.2M1448.3 1760.7V1768.2M1620.9 1760.7V1768.2" stroke="#333333" stroke-width="2.2" fill="none"/>
<text transform="translate(1102.6 1773.9) rotate(-60) scale(1 1.04)" y="15.6" text-anchor="end" font-size="22.3" fill="#4d4d4d">Summer (DJF)</text>
<text transform="translate(1275.2 1773.9) rotate(-60) scale(1 1.04)" y="15.6" text-anchor="end" font-size="22.3" fill="#4d4d4d">Fall (MAM)</text>
<text transform="translate(1447.7 1773.9) rotate(-60) scale(1 1.04)" y="15.6" text-anchor="end" font-size="22.3" fill="#4d4d4d">Winter (JJA)</text>
<text transform="translate(1620.3 1773.9) rotate(-60) scale(1 1.04)" y="15.6" text-anchor="end" font-size="22.3" fill="#4d4d4d">Spring (SON)</text>
<text transform="translate(912 1565.8) rotate(-90) scale(1 1.04)" text-anchor="middle" font-size="27.65" fill="#000">Avg. Daily WTD (cm),</text>
<text transform="translate(942 1562.7) rotate(-90) scale(1 1.04)" text-anchor="middle" font-size="27.65" fill="#000">Control Site</text>
<text transform="translate(1362 1936.5) scale(1 1.04)" text-anchor="middle" font-size="27.65" fill="#000">Season</text>
<text x="919.4" y="1373.7" font-size="34.5" font-weight="bold" fill="#000">F</text>
<text transform="translate(1205.1 2012.8) scale(1 1.04)" font-size="27" fill="#000">Patch:</text>
<path d="M1315.7 1988V2019.4" stroke="#333333" stroke-width="2.2" fill="none"/>
<rect x="1300.8" y="1994.5" width="29.8" height="18.6" fill="#c6862e" stroke="#333333" stroke-width="2.2"/>
<path d="M1300.8 2003.7H1330.6" stroke="#333333" stroke-width="2.4" fill="none"/>
<text transform="translate(1350.6 2011.5) scale(1 1.04)" font-size="21.8" fill="#000">Bog</text>
<path d="M1422.8 1988V2019.4" stroke="#333333" stroke-width="2.2" fill="none"/>
<rect x="1407.9" y="1994.5" width="29.8" height="18.6" fill="#7a70b0" stroke="#333333" stroke-width="2.2"/>
<path d="M1407.9 2003.7H1437.7" stroke="#333333" stroke-width="2.4" fill="none"/>
<text transform="translate(1457.7 2011.5) scale(1 1.04)" font-size="21.8" fill="#000">Forest</text>
</svg>
</body>
</html>
